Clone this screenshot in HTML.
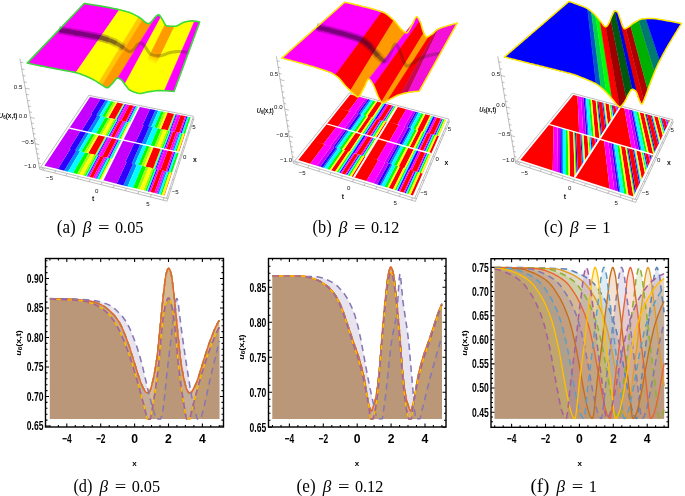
<!DOCTYPE html>
<html><head><meta charset="utf-8"><style>html,body{margin:0;padding:0;background:#fff}svg{display:block}</style></head>
<body><svg width="685" height="496" viewBox="0 0 685 496">
<path d="M39.7 169.3L19.9 58.5M39.7 169.3L167.1 201.2M167.1 201.2L194.2 117.7M39.4 167.5L43.3 168.5M38.6 162.9L40.9 163.5M37.8 158.3L40 158.8M36.9 153.5L39.2 154.1M36 148.7L38.4 149.2M35.2 143.7L39.3 144.7M34.3 138.7L36.6 139.2M33.3 133.5L35.7 134.1M32.4 128.3L34.8 128.8M31.4 122.9L33.9 123.5M30.4 117.4L34.8 118.4M29.4 111.8L31.9 112.4M28.4 106.1L30.9 106.7M27.4 100.3L29.9 100.8M26.3 94.3L28.9 94.8M25.2 88.2L29.8 89.1M24.1 81.9L26.7 82.5M22.9 75.5L25.6 76.1M21.8 69L24.5 69.5M20.6 62.3L23.3 62.8M43.1 170.1L45.6 166.4M54.4 173L55.7 170.8M65.8 175.8L67.1 173.7M77.4 178.7L78.6 176.5M89.2 181.7L90.3 179.4M101.1 184.6L103.1 180.6M113.2 187.7L114.2 185.4M125.4 190.7L126.4 188.4M137.8 193.8L138.8 191.5M150.5 197L151.3 194.6M163.2 200.2L164.7 195.9M168.1 198.3L162.3 196.8M171.1 188.8L168 188.1M174 179.8L171 179.1M176.8 171.2L173.8 170.5M179.5 162.9L176.6 162.2M182.1 154.9L176.9 153.8M184.6 147.3L181.7 146.7M186.9 140L184.1 139.4M189.2 132.9L186.5 132.3M191.4 126.1L188.7 125.6M193.6 119.6L188.8 118.6" stroke="#888" stroke-width="0.55" fill="none"/>
<g font-family="Liberation Sans, sans-serif" font-size="6.1" fill="#111"><text x="18.1" y="88.5" text-anchor="middle">0.5</text><text x="23" y="118" text-anchor="middle">0.0</text><text x="27.8" y="144.1" text-anchor="middle">−0.5</text><text x="30.2" y="167.9" text-anchor="middle">−1.0</text><text x="49.6" y="180.1" text-anchor="middle">−5</text><text x="96.8" y="192.9" text-anchor="middle">0</text><text x="148" y="205.5" text-anchor="middle">5</text><text x="93.2" y="201.4" text-anchor="middle" font-weight="bold" font-size="6.8">t</text><text x="194" y="129.4" text-anchor="middle">5</text><text x="184.8" y="159.2" text-anchor="middle">0</text><text x="175.3" y="193.9" text-anchor="middle">−5</text><text x="194.8" y="161.7" text-anchor="middle" font-weight="bold" font-size="6.8">x</text></g>
<text x="-1.5" y="118.1" textLength="19" lengthAdjust="spacingAndGlyphs" font-family="Liberation Sans, sans-serif" font-weight="bold" font-size="7" fill="#111"><tspan font-style="italic">U</tspan><tspan font-size="4.8" dy="1.3">6</tspan><tspan dy="-1.3">(x,t)</tspan></text>
<path d="M293.4 163.4L276.4 56.2M293.4 163.4L415.3 201.4M415.3 201.4L449.8 120.6M293.1 161.5L296.9 162.6M292.3 156.6L294.5 157.2M291.6 151.6L293.8 152.3M290.8 146.6L293 147.2M289.9 141.4L292.2 142.1M289.1 136.2L293 137.4M288.3 131L290.5 131.6M287.4 125.6L289.7 126.3M286.6 120.2L288.9 120.8M285.7 114.6L288 115.3M284.8 109L288.9 110.2M283.9 103.3L286.2 104M283 97.5L285.3 98.2M282 91.7L284.4 92.3M281.1 85.7L283.5 86.3M280.1 79.6L284.4 80.7M279.1 73.4L281.6 74.1M278.2 67.1L280.6 67.8M277.1 60.7L279.6 61.4M296.7 164.4L299.5 160.8M307.5 167.8L309.1 165.8M318.5 171.2L320 169.1M329.7 174.7L331.1 172.6M340.9 178.2L342.3 176.1M352.4 181.8L354.7 177.9M363.9 185.4L365.2 183.2M375.6 189L376.8 186.8M387.5 192.7L388.6 190.4M399.4 196.4L400.5 194.1M411.6 200.2L413.4 196M416.5 198.5L411 196.8M420.4 189.4L417.4 188.5M424.1 180.6L421.2 179.7M427.7 172.2L424.9 171.4M431.2 164.2L428.3 163.4M434.4 156.5L429.5 155.1M437.6 149.1L434.9 148.4M440.6 142.1L438 141.3M443.5 135.2L440.9 134.5M446.3 128.7L443.8 128M449 122.4L444.5 121.2" stroke="#888" stroke-width="0.55" fill="none"/>
<g font-family="Liberation Sans, sans-serif" font-size="6.1" fill="#111"><text x="273.9" y="76.4" text-anchor="middle">0.5</text><text x="278.3" y="108.5" text-anchor="middle">0.0</text><text x="282.3" y="136.9" text-anchor="middle">−0.5</text><text x="286" y="162.3" text-anchor="middle">−1.0</text><text x="302.3" y="175.2" text-anchor="middle">−5</text><text x="348.6" y="189.6" text-anchor="middle">0</text><text x="395.2" y="205.3" text-anchor="middle">5</text><text x="342.9" y="198.8" text-anchor="middle" font-weight="bold" font-size="6.8">t</text><text x="449.4" y="131" text-anchor="middle">5</text><text x="437.2" y="161" text-anchor="middle">0</text><text x="423.9" y="195.3" text-anchor="middle">−5</text><text x="446.5" y="164.7" text-anchor="middle" font-weight="bold" font-size="6.8">x</text></g>
<text x="256.8" y="112.7" textLength="16.9" lengthAdjust="spacingAndGlyphs" font-family="Liberation Sans, sans-serif" font-weight="bold" font-size="7" fill="#111"><tspan font-style="italic">U</tspan><tspan font-size="4.8" dy="1.3">6</tspan><tspan dy="-1.3">(x,t)</tspan></text>
<path d="M515.7 163.4L497.8 56.2M515.7 163.4L635.6 202.4M635.6 202.4L673.6 121.3M515.3 161.4L519 162.6M514.5 156.4L516.6 157.1M513.7 151.4L515.8 152M512.8 146.2L515 146.9M511.9 140.9L514.1 141.6M511 135.6L514.9 136.7M510.1 130.1L512.3 130.8M509.2 124.5L511.4 125.2M508.2 118.8L510.5 119.5M507.3 113L509.6 113.7M506.3 107.1L510.3 108.2M505.3 101L507.6 101.7M504.2 94.8L506.6 95.5M503.2 88.5L505.6 89.1M502.1 82L504.5 82.7M501 75.4L505.2 76.6M499.9 68.7L502.3 69.3M498.7 61.8L501.2 62.4M518.8 164.4L521.7 160.8M529.3 167.8L530.9 165.8M540 171.3L541.5 169.2M550.9 174.8L552.3 172.7M561.9 178.4L563.3 176.3M573.1 182.1L575.6 178.2M584.5 185.8L585.8 183.6M596.1 189.5L597.3 187.3M607.8 193.4L609 191.1M619.8 197.2L620.9 195M631.9 201.2L633.9 197M636.9 199.6L631.4 197.8M641.2 190.5L638.2 189.5M645.3 181.8L642.3 180.8M649.2 173.4L646.3 172.5M652.9 165.3L650.1 164.5M656.6 157.6L651.5 156.2M660 150.2L657.3 149.4M663.4 143L660.7 142.3M666.6 136.2L664 135.4M669.7 129.5L667.1 128.8M672.7 123.1L668.1 121.9" stroke="#888" stroke-width="0.55" fill="none"/>
<g font-family="Liberation Sans, sans-serif" font-size="6.1" fill="#111"><text x="495.8" y="75.7" text-anchor="middle">0.5</text><text x="500.6" y="107.4" text-anchor="middle">0.0</text><text x="504.3" y="136.2" text-anchor="middle">−0.5</text><text x="508.4" y="161.8" text-anchor="middle">−1.0</text><text x="524.4" y="175.2" text-anchor="middle">−5</text><text x="569.7" y="189.6" text-anchor="middle">0</text><text x="616.1" y="205.3" text-anchor="middle">5</text><text x="565" y="198.8" text-anchor="middle" font-weight="bold" font-size="6.8">t</text><text x="672.1" y="132.2" text-anchor="middle">5</text><text x="658.8" y="161.7" text-anchor="middle">0</text><text x="645.5" y="195.4" text-anchor="middle">−5</text><text x="668.8" y="164.8" text-anchor="middle" font-weight="bold" font-size="6.8">x</text></g>
<text x="479.3" y="111.7" textLength="17" lengthAdjust="spacingAndGlyphs" font-family="Liberation Sans, sans-serif" font-weight="bold" font-size="7" fill="#111"><tspan font-style="italic">U</tspan><tspan font-size="4.8" dy="1.3">6</tspan><tspan dy="-1.3">(x,t)</tspan></text>
<path d="M40.8 167 166.5 198.3 193.4 116.3 88.8 95.3Z" fill="#fff" stroke="#888" stroke-width="0.55"/>
<path d="M64.1 170.7 68 171.7 80.1 151.3 76.4 150.4ZM95.8 178.5 97.2 178.9 108 157.8 106.6 157.5ZM75.2 150.2 78.3 150.9 89.3 132.5 86.3 131.9ZM87.5 132.1 91.1 132.9 101 116.2 97.5 115.5ZM116.4 138.6 117.7 138.8 126.5 121.6 125.3 121.4ZM96.4 115.3 99.2 115.9 108.4 100.7 105.7 100.1ZM123.4 185.4 127.6 186.4 137 164.6 133 163.7ZM157.3 193.8 158.9 194.1 166.7 171.6 165.3 171.2ZM131.7 163.4 135 164.1 143.5 144.6 140.4 143.9ZM141.6 144.1 145.4 145 153.1 127.2 149.4 126.5ZM172.4 151 173.8 151.3 180.2 132.9 178.9 132.7ZM148.3 126.2 151.3 126.8 158.3 110.7 155.4 110.1Z" fill="#0088FF"/>
<path d="M73 172.9 77.1 173.9 88.8 153.3 84.9 152.4ZM84.5 175.7 86 176.1 97.2 155.3 95.9 155ZM98.6 179.2 99.9 179.5 110.6 158.4 109.3 158.1ZM81.2 151.6 84.2 152.3 95 133.8 92.1 133.2ZM111.1 158.5 112.9 159 112.9 159 122.4 139.9 122.4 139.9 120.6 139.5ZM95.6 133.9 99.3 134.8 108.9 117.9 105.3 117.2ZM106.2 136.3 107.4 136.6 116.7 119.6 115.5 119.3ZM119 139.1 120.2 139.4 128.9 122.1 127.8 121.9ZM102 116.5 104.7 117 113.6 101.7 111 101.2ZM129.3 122.2 131 122.6 131 122.6 138.9 106.8 138.9 106.8 137.3 106.5ZM132.9 187.7 137.3 188.8 146.2 166.8 142.1 165.8ZM145.3 190.8 146.8 191.1 155.3 168.9 153.8 168.5ZM160.4 194.5 161.8 194.9 169.5 172.2 168.2 171.9ZM138.2 164.9 141.3 165.6 149.6 145.9 146.6 145.2ZM170 172.3 172 172.8 172 172.8 178.8 152.4 178.8 152.4 177 152ZM150.3 146.1 154.2 146.9 161.5 129 157.7 128.2ZM161.5 148.6 162.9 148.9 169.8 130.7 168.5 130.5ZM175.2 151.6 176.5 151.9 182.8 133.5 181.5 133.2ZM154.2 127.5 157.1 128.1 163.8 111.8 161.1 111.3ZM183.2 133.6 185 133.9 185 133.9 190.6 117.2 190.6 117.2 188.9 116.9Z" fill="#00FF00"/>
<path d="M68 171.7 73 172.9 84.9 152.4 80.1 151.3ZM86 176.1 87 176.4 98.3 155.6 97.2 155.3ZM97.2 178.9 98.6 179.2 109.3 158.1 108 157.8ZM78.3 150.9 81.2 151.6 92.1 133.2 89.3 132.5ZM96.1 155.1 97.1 155.3 107.3 136.5 106.4 136.3ZM109.5 158.2 111.1 158.5 120.6 139.5 119.1 139.2ZM91.1 132.9 95.6 133.9 105.3 117.2 101 116.2ZM107.4 136.6 108.4 136.8 117.6 119.8 116.7 119.6ZM117.7 138.8 119 139.1 127.8 121.9 126.5 121.6ZM99.2 115.9 102 116.5 111 101.2 108.4 100.7ZM115.7 119.3 116.6 119.5 125 104 124.1 103.9ZM127.9 121.9 129.3 122.2 137.3 106.5 135.9 106.2ZM127.6 186.4 132.9 187.7 142.1 165.8 137 164.6ZM146.8 191.1 147.9 191.4 156.4 169.1 155.3 168.9ZM158.9 194.1 160.4 194.5 168.2 171.9 166.7 171.6ZM135 164.1 138.2 164.9 146.6 145.2 143.5 144.6ZM154.1 168.6 155.2 168.9 162.8 148.8 161.7 148.6ZM168.3 171.9 170 172.3 177 152 175.3 151.6ZM145.4 145 150.3 146.1 157.7 128.2 153.1 127.2ZM162.9 148.9 163.9 149.1 170.7 130.9 169.8 130.7ZM173.8 151.3 175.2 151.6 181.5 133.2 180.2 132.9ZM151.3 126.8 154.2 127.5 161.1 111.3 158.3 110.7ZM168.7 130.5 169.7 130.7 175.9 114.3 175 114.1ZM181.7 133.2 183.2 133.6 188.9 116.9 187.4 116.6Z" fill="#00FFFF"/>
<path d="M57.8 169.1 64.1 170.7 76.4 150.4 70.3 149ZM87 176.4 88.1 176.6 99.3 155.8 98.3 155.6ZM69.3 148.8 75.2 150.2 86.3 131.9 80.7 130.6ZM97.1 155.3 98.1 155.5 108.3 136.8 107.3 136.5ZM108.3 157.9 109.5 158.2 119.1 139.2 118 138.9ZM81.6 130.8 87.5 132.1 97.5 115.5 91.9 114.3ZM108.4 136.8 109.4 137 118.5 120 117.6 119.8ZM91 114.1 96.4 115.3 105.7 100.1 100.4 99.1ZM116.6 119.5 117.5 119.7 125.9 104.2 125 104ZM126.8 121.7 127.9 121.9 135.9 106.2 134.9 106ZM116.6 183.7 123.4 185.4 133 163.7 126.5 162.2ZM147.9 191.4 149.1 191.7 157.4 169.4 156.4 169.1ZM125.4 161.9 131.7 163.4 140.4 143.9 134.4 142.5ZM155.2 168.9 156.2 169.1 163.8 149.1 162.8 148.8ZM167.1 171.7 168.3 171.9 175.3 151.6 174.2 151.4ZM135.4 142.8 141.6 144.1 149.4 126.5 143.5 125.2ZM163.9 149.1 164.9 149.3 171.7 131.2 170.7 130.9ZM142.5 125 148.3 126.2 155.4 110.1 149.9 109ZM169.7 130.7 170.6 130.9 176.9 114.4 175.9 114.3ZM180.5 133 181.7 133.2 187.4 116.6 186.3 116.3Z" fill="#3000FF"/>
<path d="M77.1 173.9 79.5 174.5 91.1 153.9 88.8 153.3ZM82.7 175.3 84.5 175.7 95.9 155 94.1 154.6ZM84.2 152.3 86.6 152.8 97.3 134.3 95 133.8ZM95.1 154.8 96.1 155.1 106.4 136.3 105.4 136.1ZM99.3 134.8 101.6 135.3 111 118.4 108.9 117.9ZM104.4 135.9 106.2 136.3 115.5 119.3 113.8 119ZM104.7 117 107 117.5 115.8 102.2 113.6 101.7ZM114.7 119.1 115.7 119.3 124.1 103.9 123.2 103.7ZM137.3 188.8 139.9 189.4 148.7 167.3 146.2 166.8ZM143.3 190.3 145.3 190.8 153.8 168.5 151.9 168.1ZM141.3 165.6 143.9 166.2 152.1 146.5 149.6 145.9ZM153 168.4 154.1 168.6 161.7 148.6 160.7 148.4ZM154.2 146.9 156.6 147.5 163.8 129.5 161.5 129ZM159.7 148.1 161.5 148.6 168.5 130.5 166.7 130.1ZM157.1 128.1 159.4 128.6 166.1 112.3 163.8 111.8ZM167.7 130.3 168.7 130.5 175 114.1 174 113.9Z" fill="#A0FF00"/>
<path d="M44.4 165.8 57.8 169.1 70.3 149 57.5 146ZM94.9 178.3 95.8 178.5 106.6 157.5 105.8 157.3ZM57.5 146 69.3 148.8 80.7 130.6 69.4 128.1ZM98.1 155.5 99.2 155.8 109.3 137 108.3 136.8ZM69.4 128.1 81.6 130.8 91.9 114.3 80.2 111.9ZM115.6 138.4 116.4 138.6 125.3 121.4 124.6 121.2ZM80.2 111.9 91 114.1 100.4 99.1 90 97ZM117.5 119.7 118.4 119.9 126.8 104.4 125.9 104.2ZM102.3 180.1 116.6 183.7 126.5 162.2 112.9 159ZM156.4 193.5 157.3 193.8 165.3 171.2 164.4 171ZM112.9 159 125.4 161.9 134.4 142.5 122.4 139.9ZM156.2 169.1 157.3 169.4 164.8 149.3 163.8 149.1ZM122.4 139.9 135.4 142.8 143.5 125.2 131 122.6ZM171.6 150.8 172.4 151 178.9 132.7 178.1 132.5ZM131 122.6 142.5 125 149.9 109 138.9 106.8ZM170.6 130.9 171.6 131.1 177.8 114.6 176.9 114.4Z" fill="#C600FF"/>
<path d="M89.5 177 93 177.8 104 156.9 100.6 156.1ZM101.9 180 102.3 180.1 112.9 159 112.4 158.9ZM88.2 153.2 95.1 154.8 105.4 136.1 98.8 134.7ZM102.1 156.5 107.1 157.6 116.8 138.7 112.1 137.6ZM110.7 137.3 113.9 138 122.9 120.9 119.8 120.2ZM122 139.8 122.4 139.9 131 122.6 130.6 122.5ZM108.4 117.8 114.7 119.1 123.2 103.7 117.1 102.5ZM121.1 120.5 125.7 121.5 133.8 105.8 129.4 104.9ZM150.6 192.1 154.4 193 162.5 170.6 158.9 169.7ZM163.9 195.4 164.4 195.5 172 172.8 171.5 172.7ZM145.6 166.6 153 168.4 160.7 148.4 153.7 146.8ZM160.4 170.1 165.8 171.3 172.9 151.1 167.8 150ZM166.3 149.6 169.8 150.4 176.4 132.1 173.1 131.4ZM178.3 152.3 178.8 152.4 185 133.9 184.5 133.9ZM160.9 128.9 167.7 130.3 174 113.9 167.6 112.6ZM174.5 131.7 179.3 132.8 185.2 116.1 180.5 115.2Z" fill="#FF0000"/>
<path d="M88.1 176.6 89.5 177 100.6 156.1 99.3 155.8ZM93 177.8 94.9 178.3 105.8 157.3 104 156.9ZM99.2 155.8 102.1 156.5 112.1 137.6 109.3 137ZM107.1 157.6 108.3 157.9 118 138.9 116.8 138.7ZM109.4 137 110.7 137.3 119.8 120.2 118.5 120ZM113.9 138 115.6 138.4 124.6 121.2 122.9 120.9ZM118.4 119.9 121.1 120.5 129.4 104.9 126.8 104.4ZM125.7 121.5 126.8 121.7 134.9 106 133.8 105.8ZM149.1 191.7 150.6 192.1 158.9 169.7 157.4 169.4ZM154.4 193 156.4 193.5 164.4 171 162.5 170.6ZM157.3 169.4 160.4 170.1 167.8 150 164.8 149.3ZM165.8 171.3 167.1 171.7 174.2 151.4 172.9 151.1ZM164.9 149.3 166.3 149.6 173.1 131.4 171.7 131.2ZM169.8 150.4 171.6 150.8 178.1 132.5 176.4 132.1ZM171.6 131.1 174.5 131.7 180.5 115.2 177.8 114.6ZM179.3 132.8 180.5 133 186.3 116.3 185.2 116.1Z" fill="#FF00FF"/>
<path d="M79.5 174.5 82.7 175.3 94.1 154.6 91.1 153.9ZM99.9 179.5 101.9 180 112.4 158.9 110.6 158.4ZM86.6 152.8 88.2 153.2 98.8 134.7 97.3 134.3ZM101.6 135.3 104.4 135.9 113.8 119 111 118.4ZM120.2 139.4 122 139.8 130.6 122.5 128.9 122.1ZM107 117.5 108.4 117.8 117.1 102.5 115.8 102.2ZM139.9 189.4 143.3 190.3 151.9 168.1 148.7 167.3ZM161.8 194.9 163.9 195.4 171.5 172.7 169.5 172.2ZM143.9 166.2 145.6 166.6 153.7 146.8 152.1 146.5ZM156.6 147.5 159.7 148.1 166.7 130.1 163.8 129.5ZM176.5 151.9 178.3 152.3 184.5 133.9 182.8 133.5ZM159.4 128.6 160.9 128.9 167.6 112.6 166.1 112.3Z" fill="#FFFF00"/>
<path d="M101.3 179.9 103.4 180.4 139.8 107 138 106.6Z" fill="#fff"/>
<path d="M69 128.8 178.6 153.1 179 151.7 69.8 127.5Z" fill="#fff"/>
<path d="M294.5 161.1 414.7 198.4 448.9 119.1 349.4 92.8Z" fill="#fff" stroke="#888" stroke-width="0.55"/>
<path d="M322.7 167.6 324.2 168.1 338.1 148.4 336.7 148ZM334.9 147.5 336.8 148.1 349.4 130.4 347.6 129.9ZM349.3 130.4 350.6 130.8 361.9 114.8 360.7 114.4ZM359 114 360.8 114.5 371.1 100 369.5 99.5ZM379.8 185.3 381.3 185.7 392.6 164.6 391.1 164.1ZM389.2 163.6 391.2 164.2 401.4 145.2 399.5 144.7ZM401.3 145.2 402.7 145.6 411.8 128.5 410.4 128.1ZM408.7 127.6 410.5 128.1 418.8 112.6 417.1 112.1Z" fill="#0088FF"/>
<path d="M327.2 169 329.7 169.8 343.4 150 341 149.3ZM336.8 172 338.2 172.4 351.4 152.4 350.1 152ZM348.2 175.5 349.7 175.9 362.4 155.7 361 155.2ZM339.4 148.8 342 149.6 354.4 131.8 351.8 131.1ZM350.5 152.1 351.2 152.3 363.1 134.3 362.4 134.1ZM363.4 155.9 364.7 156.3 376.1 138 374.8 137.7ZM353.3 131.6 355.7 132.2 366.8 116.1 364.6 115.5ZM362.1 134.1 363.4 134.4 374.1 118.1 373 117.8ZM372.5 137 373.9 137.4 384.2 120.9 382.9 120.6ZM363.1 115.1 365.5 115.8 375.7 101.2 373.4 100.6ZM373.3 117.9 374 118.1 383.8 103.3 383.1 103.1ZM385.1 121.2 386.3 121.5 395.6 106.5 394.5 106.1ZM384.5 186.7 387.3 187.6 398.2 166.2 395.6 165.5ZM394.8 189.9 396.2 190.3 406.7 168.8 405.3 168.4ZM406.9 193.6 408.5 194.1 418.4 172.2 416.9 171.8ZM393.9 165 396.7 165.8 406.6 146.7 403.9 146ZM405.7 168.5 406.5 168.7 415.9 149.4 415.2 149.1ZM419.4 172.5 420.8 172.9 429.6 153.2 428.3 152.9ZM405.6 146.4 408 147.1 416.9 129.9 414.5 129.2ZM414.8 149 416.1 149.4 424.6 132 423.4 131.6ZM425.8 152.2 427.3 152.6 435.3 134.9 433.9 134.5ZM413 128.8 415.5 129.5 423.6 113.9 421.2 113.2ZM423.7 131.7 424.4 131.9 432.1 116.1 431.4 115.9ZM436.2 135.2 437.5 135.5 444.6 119.4 443.4 119.1Z" fill="#00FF00"/>
<path d="M324.2 168.1 327.2 169 341 149.3 338.1 148.4ZM338.2 172.4 339.3 172.7 352.5 152.7 351.4 152.4ZM347.1 175.1 348.2 175.5 361 155.2 359.9 154.9ZM336.8 148.1 339.4 148.8 351.8 131.1 349.4 130.4ZM351.2 152.3 352.5 152.7 364.4 134.7 363.1 134.3ZM362.5 155.7 363.4 155.9 374.8 137.7 374 137.4ZM350.6 130.8 353.3 131.6 364.6 115.5 361.9 114.8ZM363.4 134.4 364.4 134.7 375.1 118.4 374.1 118.1ZM371.5 136.7 372.5 137 382.9 120.6 381.9 120.3ZM360.8 114.5 363.1 115.1 373.4 100.6 371.1 100ZM374 118.1 375.1 118.4 384.9 103.6 383.8 103.3ZM384.3 120.9 385.1 121.2 394.5 106.1 393.7 105.9ZM381.3 185.7 384.5 186.7 395.6 165.5 392.6 164.6ZM396.2 190.3 397.4 190.7 407.8 169.1 406.7 168.8ZM405.7 193.3 406.9 193.6 416.9 171.8 415.7 171.4ZM391.2 164.2 393.9 165 403.9 146 401.4 145.2ZM406.5 168.7 407.8 169.1 417.2 149.7 415.9 149.4ZM418.5 172.2 419.4 172.5 428.3 152.9 427.4 152.6ZM402.7 145.6 405.6 146.4 414.5 129.2 411.8 128.5ZM416.1 149.4 417.2 149.7 425.7 132.3 424.6 132ZM424.7 151.9 425.8 152.2 433.9 134.5 432.8 134.2ZM410.5 128.1 413 128.8 421.2 113.2 418.8 112.6ZM424.4 131.9 425.7 132.3 433.3 116.4 432.1 116.1ZM435.4 134.9 436.2 135.2 443.4 119.1 442.6 118.9Z" fill="#00FFFF"/>
<path d="M320.2 166.8 322.7 167.6 336.7 148 334.3 147.3ZM339.3 172.7 340.6 173.1 353.8 153.1 352.5 152.7ZM346.1 174.8 347.1 175.1 359.9 154.9 359 154.6ZM333.1 147 334.9 147.5 347.6 129.9 345.9 129.4ZM352.5 152.7 354.4 153.3 366.2 135.2 364.4 134.7ZM361.6 155.4 362.5 155.7 374 137.4 373.1 137.2ZM347 129.7 349.3 130.4 360.7 114.4 358.5 113.8ZM364.4 134.7 365.6 135 376.3 118.7 375.1 118.4ZM370.6 136.5 371.5 136.7 381.9 120.3 381.1 120ZM357.4 113.5 359 114 369.5 99.5 367.9 99.1ZM375.1 118.4 376.9 118.9 386.6 104.1 384.9 103.6ZM383.4 120.7 384.3 120.9 393.7 105.9 392.9 105.7ZM377.1 184.4 379.8 185.3 391.1 164.1 388.5 163.4ZM397.4 190.7 398.8 191.1 409.2 169.5 407.8 169.1ZM404.6 192.9 405.7 193.3 415.7 171.4 414.7 171.1ZM387.3 163 389.2 163.6 399.5 144.7 397.6 144.2ZM407.8 169.1 409.9 169.7 419.2 150.3 417.2 149.7ZM417.5 171.9 418.5 172.2 427.4 152.6 426.4 152.3ZM398.8 144.5 401.3 145.2 410.4 128.1 408.1 127.4ZM417.2 149.7 418.5 150.1 426.9 132.6 425.7 132.3ZM423.8 151.6 424.7 151.9 432.8 134.2 431.9 134ZM407 127.1 408.7 127.6 417.1 112.1 415.4 111.7ZM425.7 132.3 427.5 132.8 435.1 116.9 433.3 116.4ZM434.4 134.7 435.4 134.9 442.6 118.9 441.7 118.7Z" fill="#3000FF"/>
<path d="M316.9 165.8 320.2 166.8 334.3 147.3 331.1 146.4ZM330.5 146.2 333.1 147 345.9 129.4 343.3 128.7ZM344 128.9 347 129.7 358.5 113.8 355.6 113ZM355 112.9 357.4 113.5 367.9 99.1 365.6 98.5ZM373.6 183.3 377.1 184.4 388.5 163.4 385.2 162.4ZM384.5 162.2 387.3 163 397.6 144.2 395 143.4ZM395.6 143.6 398.8 144.5 408.1 127.4 405 126.6ZM404.4 126.4 407 127.1 415.4 111.7 413 111Z" fill="#C600FF"/>
<path d="M298.3 160.1 310.1 163.7 324.6 144.5 313.3 141.1ZM331.2 170.2 335.1 171.4 348.5 151.5 344.8 150.4ZM341.6 173.5 345.2 174.5 358.1 154.4 354.8 153.4ZM351.6 176.5 353.8 177.2 366.4 156.8 364.3 156.2ZM313.3 141.1 323.4 144.1 336.5 126.8 326.9 124ZM343.8 150.1 349.2 151.7 361.2 133.8 356.1 132.3ZM356.3 153.8 360.7 155.1 372.2 136.9 368 135.7ZM366.1 156.7 366.4 156.8 377.6 138.5 377.4 138.4ZM326.9 124 337.7 127.1 349.6 111.4 339.2 108.6ZM357 132.6 360.6 133.6 371.5 117.4 368.1 116.5ZM366.5 135.3 369.7 136.2 380.3 119.8 377.2 119ZM375.6 137.9 377.6 138.5 387.8 121.9 385.9 121.4ZM339.2 108.6 348.5 111.1 359.3 96.8 350.4 94.5ZM367.2 116.2 372.1 117.6 382 102.8 377.3 101.6ZM378.6 119.4 382.6 120.5 392.1 105.5 388.2 104.5ZM387.6 121.8 387.8 121.9 397.1 106.8 396.9 106.8ZM353.8 177.2 366.4 181.1 378.3 160.4 366.4 156.8ZM388.8 188 393 189.3 403.6 167.8 399.7 166.7ZM399.9 191.5 403.7 192.6 413.8 170.9 410.2 169.8ZM410.6 194.8 412.9 195.5 422.6 173.4 420.4 172.8ZM366.4 156.8 377 160 387.8 141.4 377.6 138.5ZM398.7 166.4 404.3 168 413.9 148.8 408.5 147.2ZM411.8 170.3 416.6 171.7 425.5 152.1 421 150.8ZM422.3 173.4 422.6 173.4 431.2 153.7 431 153.7ZM377.6 138.5 389.1 141.7 398.7 124.9 387.8 121.9ZM409.4 147.5 413.2 148.6 421.8 131.2 418.2 130.2ZM419.5 150.4 422.9 151.3 431.1 133.7 427.8 132.9ZM429.1 153.1 431.2 153.7 439 135.9 437 135.4ZM387.8 121.9 397.5 124.6 406.4 109.3 397.1 106.8ZM417.3 130 422.4 131.4 430.2 115.6 425.3 114.3ZM429.3 133.3 433.6 134.4 440.9 118.4 436.8 117.4ZM438.8 135.9 439 135.9 446.1 119.8 445.9 119.8Z" fill="#FF0000"/>
<path d="M310.1 163.7 316.9 165.8 331.1 146.4 324.6 144.5ZM340.6 173.1 341.6 173.5 354.8 153.4 353.8 153.1ZM345.2 174.5 346.1 174.8 359 154.6 358.1 154.4ZM323.4 144.1 330.5 146.2 343.3 128.7 336.5 126.8ZM354.4 153.3 356.3 153.8 368 135.7 366.2 135.2ZM360.7 155.1 361.6 155.4 373.1 137.2 372.2 136.9ZM337.7 127.1 344 128.9 355.6 113 349.6 111.4ZM365.6 135 366.5 135.3 377.2 119 376.3 118.7ZM369.7 136.2 370.6 136.5 381.1 120 380.3 119.8ZM348.5 111.1 355 112.9 365.6 98.5 359.3 96.8ZM376.9 118.9 378.6 119.4 388.2 104.5 386.6 104.1ZM382.6 120.5 383.4 120.7 392.9 105.7 392.1 105.5ZM366.4 181.1 373.6 183.3 385.2 162.4 378.3 160.4ZM398.8 191.1 399.9 191.5 410.2 169.8 409.2 169.5ZM403.7 192.6 404.6 192.9 414.7 171.1 413.8 170.9ZM377 160 384.5 162.2 395 143.4 387.8 141.4ZM409.9 169.7 411.8 170.3 421 150.8 419.2 150.3ZM416.6 171.7 417.5 171.9 426.4 152.3 425.5 152.1ZM389.1 141.7 395.6 143.6 405 126.6 398.7 124.9ZM418.5 150.1 419.5 150.4 427.8 132.9 426.9 132.6ZM422.9 151.3 423.8 151.6 431.9 134 431.1 133.7ZM397.5 124.6 404.4 126.4 413 111 406.4 109.3ZM427.5 132.8 429.3 133.3 436.8 117.4 435.1 116.9ZM433.6 134.4 434.4 134.7 441.7 118.7 440.9 118.4Z" fill="#FF00FF"/>
<path d="M329.7 169.8 331.2 170.2 344.8 150.4 343.4 150ZM335.1 171.4 336.8 172 350.1 152 348.5 151.5ZM349.7 175.9 351.6 176.5 364.3 156.2 362.4 155.7ZM342 149.6 343.8 150.1 356.1 132.3 354.4 131.8ZM349.2 151.7 350.5 152.1 362.4 134.1 361.2 133.8ZM364.7 156.3 366.1 156.7 377.4 138.4 376.1 138ZM355.7 132.2 357 132.6 368.1 116.5 366.8 116.1ZM360.6 133.6 362.1 134.1 373 117.8 371.5 117.4ZM373.9 137.4 375.6 137.9 385.9 121.4 384.2 120.9ZM365.5 115.8 367.2 116.2 377.3 101.6 375.7 101.2ZM372.1 117.6 373.3 117.9 383.1 103.1 382 102.8ZM386.3 121.5 387.6 121.8 396.9 106.8 395.6 106.5ZM387.3 187.6 388.8 188 399.7 166.7 398.2 166.2ZM393 189.3 394.8 189.9 405.3 168.4 403.6 167.8ZM408.5 194.1 410.6 194.8 420.4 172.8 418.4 172.2ZM396.7 165.8 398.7 166.4 408.5 147.2 406.6 146.7ZM404.3 168 405.7 168.5 415.2 149.1 413.9 148.8ZM420.8 172.9 422.3 173.4 431 153.7 429.6 153.2ZM408 147.1 409.4 147.5 418.2 130.2 416.9 129.9ZM413.2 148.6 414.8 149 423.4 131.6 421.8 131.2ZM427.3 152.6 429.1 153.1 437 135.4 435.3 134.9ZM415.5 129.5 417.3 130 425.3 114.3 423.6 113.9ZM422.4 131.4 423.7 131.7 431.4 115.9 430.2 115.6ZM437.5 135.5 438.8 135.9 445.9 119.8 444.6 119.4Z" fill="#FFFF00"/>
<path d="M352.8 176.9 354.8 177.5 397.9 107.1 396.2 106.6Z" fill="#fff"/>
<path d="M326.5 124.6 430.9 154.4 431.5 153 327.4 123.5Z" fill="#fff"/>
<path d="M516.7 161 635.1 199.4 672.8 119.7 572.4 93.2Z" fill="#fff" stroke="#888" stroke-width="0.55"/>
<path d="M561.8 173.4 563 173.8 562.9 128.5 561.8 128.1ZM587.6 135.6 588.8 136 586.1 98.3 585 98ZM619.4 191.9 620.8 192.4 614 143.3 612.9 143ZM640.7 151 641.9 151.4 633.5 110.8 632.5 110.5Z" fill="#0088FF"/>
<path d="M566.1 174.8 568.5 175.5 567.7 129.9 565.7 129.3ZM575.5 176.2 576.6 174.6 575 132 574 131.7ZM589.7 154.2 590.7 152.8 589.4 136.2 588.4 135.9ZM597.1 142.8 598 141.5 597.7 138.6 596.7 138.3ZM591.6 136.8 593.8 137.4 590.6 99.5 588.6 99ZM600.2 138 601.1 136.7 597.4 101.3 596.4 101ZM611.9 119.9 612.7 118.6 610.7 104.8 609.8 104.6ZM618 110.4 618.8 109.3 618.4 106.8 617.4 106.6ZM624.1 193.5 626.7 194.3 619.3 144.8 617 144.2ZM634.1 195 634.9 193.2 627.1 147.1 626 146.8ZM645.5 171.1 646.3 169.5 642.6 151.6 641.5 151.3ZM651.5 158.8 652.2 157.3 651.5 154.2 650.3 153.8ZM645 152.3 647.3 152.9 638.4 112.1 636.3 111.6ZM654 153.6 654.7 152.1 645.6 114 644.6 113.8ZM663.4 134 664 132.7 659.9 117.8 658.9 117.5ZM668.2 123.8 668.8 122.6 668.1 120 667 119.7Z" fill="#00FF00"/>
<path d="M563 173.8 566.1 174.8 565.7 129.3 562.9 128.5ZM582.9 164.7 584.1 162.9 582.5 134.2 581.3 133.8ZM590.7 152.8 591.6 151.3 590.5 136.5 589.4 136.2ZM588.8 136 591.6 136.8 588.6 99 586.1 98.3ZM606.3 128.6 607.3 127 604.3 103.1 603.2 102.8ZM612.7 118.6 613.5 117.4 611.7 105.1 610.7 104.8ZM620.8 192.4 624.1 193.5 617 144.2 614 143.3ZM640 182.5 641 180.5 635.1 149.4 633.8 149ZM646.3 169.5 647.1 167.9 643.7 151.9 642.6 151.6ZM641.9 151.4 645 152.3 636.3 111.6 633.5 110.8ZM658.9 143.4 659.6 141.7 653 116 651.8 115.7ZM664 132.7 664.6 131.4 660.9 118.1 659.9 117.8Z" fill="#00FFFF"/>
<path d="M560 172.8 561.8 173.4 561.8 128.1 560.2 127.7ZM576.6 174.6 577.8 172.6 576.2 132.3 575 132ZM581.9 166.3 582.9 164.7 581.3 133.8 580.3 133.5ZM591.6 151.3 592.5 149.9 591.5 136.8 590.5 136.5ZM596.2 144.2 597.1 142.8 596.7 138.3 595.6 138ZM586 135.2 587.6 135.6 585 98 583.6 97.6ZM601.1 136.7 602.1 135.1 598.5 101.6 597.4 101.3ZM605.5 129.9 606.3 128.6 603.2 102.8 602.2 102.6ZM613.5 117.4 614.3 116.3 612.6 105.3 611.7 105.1ZM617.3 111.6 618 110.4 617.4 106.6 616.5 106.3ZM617.5 191.3 619.4 191.9 612.9 143 611.2 142.5ZM634.9 193.2 635.9 191.1 628.4 147.5 627.1 147.1ZM639.2 184.2 640 182.5 633.8 149 632.7 148.7ZM647.1 167.9 647.8 166.4 644.8 152.2 643.7 151.9ZM650.7 160.3 651.5 158.8 650.3 153.8 649.2 153.5ZM638.9 150.5 640.7 151 632.5 110.5 630.9 110.1ZM654.7 152.1 655.5 150.4 646.8 114.3 645.6 114ZM658.2 144.8 658.9 143.4 651.8 115.7 650.8 115.4ZM664.6 131.4 665.2 130.1 661.9 118.3 660.9 118.1ZM667.7 125 668.2 123.8 667 119.7 666 119.4Z" fill="#3000FF"/>
<path d="M557.1 171.9 560 172.8 560.2 127.7 557.6 126.9ZM583.3 134.4 586 135.2 583.6 97.6 581.1 97ZM614.3 190.3 617.5 191.3 611.2 142.5 608.3 141.6ZM635.9 149.7 638.9 150.5 630.9 110.1 628.3 109.4Z" fill="#C600FF"/>
<path d="M520.4 160 552.7 170.4 553.7 125.8 549.3 124.5ZM570 176 574.7 177.5 574.7 177.5 573.2 131.5 569.1 130.3ZM577.8 172.6 581.9 166.3 580.3 133.5 576.2 132.3ZM585.1 161.4 588.8 155.7 587.4 135.6 583.5 134.4ZM592.5 149.9 595.3 145.6 594.6 137.7 591.5 136.8ZM598 141.5 599.5 139.1 597.7 138.6ZM549.3 124.5 579.2 133.2 577.5 96 573.4 94.9ZM595.3 137.9 599.5 139.1 599.5 139.1 595.7 100.8 591.9 99.8ZM602.1 135.1 605.5 129.9 602.2 102.6 598.5 101.6ZM608.1 125.8 611.1 121.1 608.8 104.3 605.2 103.3ZM614.3 116.3 616.5 112.7 615.5 106.1 612.6 105.3ZM618.8 109.3 620.1 107.3 618.4 106.8ZM574.7 177.5 609.6 188.8 604.1 140.4 599.5 139.1ZM628.4 194.8 633.4 196.4 633.4 196.4 625.2 146.5 620.8 145.2ZM635.9 191.1 639.2 184.2 632.7 148.7 628.4 147.5ZM641.8 178.9 644.8 172.7 640.4 150.9 636.2 149.7ZM647.8 166.4 650 161.8 648.1 153.2 644.8 152.2ZM652.2 157.3 653.4 154.7 651.5 154.2ZM599.5 139.1 631.6 148.4 624.4 108.4 620.1 107.3ZM648.8 153.4 653.4 154.7 653.4 154.7 643.8 113.5 639.7 112.5ZM655.5 150.4 658.2 144.8 650.8 115.4 646.8 114.3ZM660.3 140.4 662.7 135.3 657.9 117.3 654 116.2ZM665.2 130.1 667.1 126.3 665 119.1 661.9 118.3ZM668.8 122.6 669.9 120.4 668.1 120Z" fill="#FF0000"/>
<path d="M552.7 170.4 557.1 171.9 557.6 126.9 553.7 125.8ZM595.3 145.6 596.2 144.2 595.6 138 594.6 137.7ZM579.2 133.2 583.3 134.4 581.1 97 577.5 96ZM616.5 112.7 617.3 111.6 616.5 106.3 615.5 106.1ZM609.6 188.8 614.3 190.3 608.3 141.6 604.1 140.4ZM650 161.8 650.7 160.3 649.2 153.5 648.1 153.2ZM631.6 148.4 635.9 149.7 628.3 109.4 624.4 108.4ZM667.1 126.3 667.7 125 666 119.4 665 119.1Z" fill="#FF00FF"/>
<path d="M568.5 175.5 570 176 569.1 130.3 567.7 129.9ZM574.7 177.5 574.7 177.5 575.5 176.2 574 131.7 573.2 131.5ZM584.1 162.9 585.1 161.4 583.5 134.4 582.5 134.2ZM588.8 155.7 589.7 154.2 588.4 135.9 587.4 135.6ZM593.8 137.4 595.3 137.9 591.9 99.8 590.6 99.5ZM599.5 139.1 599.5 139.1 600.2 138 596.4 101 595.7 100.8ZM607.3 127 608.1 125.8 605.2 103.3 604.3 103.1ZM611.1 121.1 611.9 119.9 609.8 104.6 608.8 104.3ZM626.7 194.3 628.4 194.8 620.8 145.2 619.3 144.8ZM633.4 196.4 633.4 196.4 634.1 195 626 146.8 625.2 146.5ZM641 180.5 641.8 178.9 636.2 149.7 635.1 149.4ZM644.8 172.7 645.5 171.1 641.5 151.3 640.4 150.9ZM647.3 152.9 648.8 153.4 639.7 112.5 638.4 112.1ZM653.4 154.7 653.4 154.7 654 153.6 644.6 113.8 643.8 113.5ZM659.6 141.7 660.3 140.4 654 116.2 653 116ZM662.7 135.3 663.4 134 658.9 117.5 657.9 117.3Z" fill="#FFFF00"/>
<path d="M573.6 177.2 575.7 177.8 620.9 107.5 619.2 107Z" fill="#fff"/>
<path d="M548.9 125.1 653.1 155.4 653.7 154 549.8 124Z" fill="#fff"/>
<path d="M27.2 63.1 28.3 63.3 29.4 63.5 30.5 63.8 31.5 64 32.6 64.2 33.7 64.4 34.8 64.6 35.9 64.9 37 65.1 38 65.3 39.1 65.5 40.2 65.7 41.3 66 42.4 66.2 43.5 66.4 44.6 66.6 45.7 66.8 46.8 67 47.9 67.3 49 67.5 50.1 67.7 51.2 67.9 52.3 68.1 53.4 68.3 54.5 68.5 55.6 68.7 56.7 69 57.9 69.2 59 69.4 60.1 69.6 61.2 69.8 62.3 70 63.4 70.2 64.6 70.4 65.7 70.6 66.8 70.8 67.9 71 69.1 71.2 70.2 71.4 71.3 71.6 72.4 71.9 73.6 72.1 74.7 72.3 75.9 72.6 119.4 9.7 118.6 9.5 117.8 9.4 117 9.2 116.1 9 115.3 8.8 114.5 8.7 113.7 8.5 112.9 8.3 112.1 8.2 111.3 8 110.5 7.9 109.7 7.7 108.9 7.5 108.1 7.4 107.3 7.2 106.4 7.1 105.6 6.9 104.8 6.8 104 6.6 103.2 6.5 102.4 6.4 101.6 6.2 100.8 6.1 100 6 99.2 5.8 98.5 5.7 97.7 5.6 96.9 5.4 96.1 5.3 95.3 5.2 94.5 5.1 93.7 4.9 92.9 4.8 92.1 4.7 91.3 4.6 90.5 4.4 89.7 4.3 89 4.2 88.2 4.1 87.4 4 86.6 3.8 85.8 3.7 85 3.6 84.2 3.5Z" fill="#FF00FF" stroke="#FF00FF" stroke-width="0.6"/>
<path d="M75.9 72.6 76.9 72.9 78 73.2 79.1 73.5 80.1 73.9 81.2 74.3 82.3 74.7 83.4 75.2 84.4 75.6 85.5 76 86.6 76.4 87.7 76.9 88.8 77.4 89.8 77.9 90.9 78.4 92 79 93.1 79.5 94.2 80.1 95.3 80.7 96.4 81.4 97.5 82.1 98.6 82.8 138.6 17 137.6 16.5 136.7 15.9 135.8 15.4 134.9 14.9 134 14.4 133.1 14 132.2 13.6 131.3 13.2 130.3 12.8 129.4 12.5 128.5 12.2 127.6 11.9 126.7 11.6 125.8 11.4 124.9 11.1 123.9 10.9 123 10.6 122.1 10.4 121.2 10.2 120.3 9.9 119.4 9.7Z" fill="#FFFF00" stroke="#FFFF00" stroke-width="0.6"/>
<path d="M98.6 82.8 99.3 83.3 100 83.8 100.8 84.3 101.5 84.8 102.3 85.2 142.6 19.9 141.8 19.2 141 18.5 140.2 18 139.4 17.4 138.6 17Z" fill="#FFC800" stroke="#FFC800" stroke-width="0.6"/>
<path d="M102.3 85.2 103.4 85.9 104.5 86.6 105.6 87.2 106.8 87.7 107.9 87.6 109 87 110.1 86 111.1 84.8 112.2 83.6 113.3 82.5 114.5 81 115.6 79.4 116.7 78.3 117.8 78 155.9 16.4 154.9 17.5 153.9 18.8 152.9 20.1 151.9 21.3 150.9 22.3 149.9 23.1 149 23.6 148 23.6 147.1 23.3 146.2 22.8 145.3 22.2 144.4 21.5 143.5 20.7 142.6 19.9Z" fill="#FF9A00" stroke="#FF9A00" stroke-width="0.6"/>
<path d="M117.8 78 119 78.4 120.2 79 121.3 79.8 122.5 81 123.6 82.6 124.8 84.2 160.9 17.2 160.2 16 159.4 15.2 158.5 14.9 157.7 15.1 156.8 15.6 155.9 16.4Z" fill="#FF00FF" stroke="#FF00FF" stroke-width="0.6"/>
<path d="M124.8 84.2 126 85.8 127.1 87.4 128.3 88.8 129.5 90 130.6 90.6 131.8 91.1 165.1 24.4 164.4 23.2 163.7 21.9 163 20.6 162.3 19.4 161.6 18.4 160.9 17.2Z" fill="#FFFF00" stroke="#FFFF00" stroke-width="0.6"/>
<linearGradient id="g1" gradientUnits="userSpaceOnUse" x1="137.1" y1="92.7" x2="169.9" y2="26"><stop offset="0.45" stop-color="#FFFF00"/><stop offset="0.6" stop-color="#FF9A00"/></linearGradient>
<path d="M131.8 91.1 132.9 91.6 133.9 92 135 92.4 136 92.7 137.1 93 138.1 93.3 139.2 93.5 140.2 93.5 141.3 93.5 142.4 93.3 174.7 26.3 173.7 26.3 172.8 26.3 171.8 26.3 170.8 26.3 169.8 26.2 168.9 26.2 167.9 26.1 166.9 25.9 166 25.5 165.1 24.4Z" fill="url(#g1)" stroke="url(#g1)" stroke-width="0.6"/>
<path d="M142.4 93.3 143.5 93 144.6 92.7 145.6 92.4 146.7 92.2 147.8 92 148.9 91.8 150 91.6 151.1 91.4 152.2 91.2 153.3 91.1 154.4 90.9 155.5 90.8 156.7 90.7 157.8 90.6 158.9 90.6 160 90.6 161.1 90.6 162.2 90.6 163.3 90.7 164.4 90.7 194.7 21.1 193.7 21 192.7 20.9 191.7 20.9 190.7 20.9 189.7 21 188.7 21.2 187.7 21.4 186.7 21.6 185.7 21.8 184.7 22 183.7 22.3 182.7 22.8 181.7 23.3 180.7 23.9 179.7 24.4 178.7 25 177.7 25.5 176.7 25.9 175.7 26.2 174.7 26.3Z" fill="#FFFF00" stroke="#FFFF00" stroke-width="0.6"/>
<path d="M164.4 90.7 165.6 90.7 166.8 90.8 168 90.9 169.2 91 170.4 91.1 171.6 91.2 172.8 91.3 174 91.5 199.7 22 199.1 21.9 198.4 21.7 197.8 21.6 197.2 21.5 196.5 21.4 195.9 21.3 195.3 21.2 194.7 21.1Z" fill="#FF00FF" stroke="#FF00FF" stroke-width="0.6"/>
<path d="M59 29.9 60.5 30.2 62.1 30.4 63.6 30.7 65.2 31 66.8 31.3 68.3 31.6 69.9 31.8 71.5 32.1 73.1 32.4 74.7 32.7 76.2 33 77.8 33.2 79.4 33.5 81 33.8 82.6 34.1 84.2 34.4 85.8 34.7 87.4 35 89 35.3 90.6 35.6 92.3 35.9 93.9 36.2 95.5 36.5 97.1 36.9 98.7 37.2 100.4 37.5 102 37.9 103.6 38.3 105.3 38.8 106.9 39.4 108.6 39.9" fill="none" stroke="#380038" stroke-opacity="0.30" stroke-width="8"/>
<path d="M59 29.9 60.5 30.2 62.1 30.4 63.6 30.7 65.2 31 66.8 31.3 68.3 31.6 69.9 31.8 71.5 32.1 73.1 32.4 74.7 32.7 76.2 33 77.8 33.2 79.4 33.5 81 33.8 82.6 34.1 84.2 34.4 85.8 34.7 87.4 35 89 35.3 90.6 35.6 92.3 35.9 93.9 36.2 95.5 36.5 97.1 36.9 98.7 37.2 100.4 37.5 102 37.9 103.6 38.3 105.3 38.8 106.9 39.4 108.6 39.9" fill="none" stroke="#380038" stroke-opacity="0.50" stroke-width="4.5"/>
<path d="M108.6 39.9 111.1 40.9 113.7 42 116.3 43.3" fill="none" stroke="#380038" stroke-opacity="0.21" stroke-width="8"/>
<path d="M108.6 39.9 111.1 40.9 113.7 42 116.3 43.3" fill="none" stroke="#380038" stroke-opacity="0.35" stroke-width="4.5"/>
<path d="M116.3 43.3 118.8 44.7 121.4 46.3 124 48.1" fill="none" stroke="#380038" stroke-opacity="0.14" stroke-width="8"/>
<path d="M116.3 43.3 118.8 44.7 121.4 46.3 124 48.1" fill="none" stroke="#380038" stroke-opacity="0.23" stroke-width="4.5"/>
<path d="M108.6 39.9 110.8 40.8 113 41.7 115.2 42.7 117.4 43.9 119.6 45.2 121.8 46.5 124 48.1 124 48.1 125.4 49.2 126.8 50.2 128.1 51.1 129.5 51.7 131 51.6 132.4 50.7 133.8 49.3 135.3 47.8 136.7 45.8 138.2 44.1 139.7 43.2 141.1 43.1 142.6 43.6 144 45.2 145.4 47.2 146.7 49.2 148.1 51.3 149.5 53.2 150.9 54.3 152.3 54.8 153.7 55.2 155.2 55.5 156.6 55.7 158.1 55.9 159.5 55.8 161 55.7 162.5 55.3 164 54.8 165.5 54.2 167.1 53.6 168.6 53.1 170.1 52.6 171.7 52.2 173.2 52 174.7 51.8 176.3 51.6 177.8 51.5 179.3 51.5 180.8 51.5 182.4 51.7 183.9 51.8 185.4 52 186.9 52.2 188.4 52.4" fill="none" stroke="#302010" stroke-opacity="0.28" stroke-width="3.2"/>
<path d="M27.2 63.1 28.4 63.3 29.5 63.6 30.6 63.8 31.8 64 32.9 64.3 34.1 64.5 35.2 64.7 36.4 65 37.5 65.2 38.7 65.4 39.8 65.7 41 65.9 42.1 66.1 43.3 66.3 44.4 66.6 45.6 66.8 46.8 67 47.9 67.3 49.1 67.5 50.2 67.7 51.4 67.9 52.6 68.2 53.8 68.4 54.9 68.6 56.1 68.8 57.3 69.1 58.4 69.3 59.6 69.5 60.8 69.7 62 69.9 63.2 70.2 64.3 70.4 65.5 70.6 66.7 70.8 67.9 71 69.1 71.2 70.3 71.5 71.5 71.7 72.7 71.9 73.9 72.1 75.1 72.4 76.3 72.7 77.5 73 78.7 73.4 79.9 73.8 81.1 74.3 82.4 74.8 83.6 75.3 84.8 75.7 86.1 76.2 87.3 76.7 88.5 77.3 89.8 77.8 91 78.5 92.2 79.1 93.5 79.7 94.7 80.4 96 81.1 97.2 81.9 98.4 82.8 99.7 83.6 100.9 84.4 102.2 85.1 103.4 85.9 104.7 86.7 105.9 87.4 107.1 87.7 108.3 87.4 109.5 86.5 110.7 85.3 111.9 83.9 113.1 82.7 114.4 81.1 115.6 79.4 116.8 78.2 118.1 78 119.4 78.6 120.6 79.3 121.9 80.3 123.2 82 124.4 83.8 125.7 85.4 127 87.1 128.2 88.7 129.5 90 130.7 90.6 132 91.2 133.2 91.7 134.5 92.2 135.8 92.6 137 93 138.3 93.3 139.6 93.5 140.8 93.5 142.1 93.3 143.4 93 144.7 92.7 146 92.3 147.3 92 148.7 91.8 150 91.6 151.3 91.4 152.6 91.2 154 91 155.3 90.8 156.6 90.7 157.9 90.6 159.3 90.6 160.6 90.6 161.9 90.6 163.3 90.7 164.6 90.7 166 90.8 167.3 90.8 168.6 90.9 170 91 171.3 91.2 172.7 91.3 174 91.5 199.7 22 198.7 21.8 197.6 21.6 196.6 21.4 195.6 21.3 194.5 21.1 193.5 21 192.5 20.9 191.4 20.9 190.4 21 189.3 21.1 188.3 21.3 187.2 21.5 186.2 21.7 185.1 21.9 184 22.2 183 22.6 181.9 23.2 180.8 23.8 179.7 24.4 178.7 25 177.6 25.5 176.6 25.9 175.5 26.2 174.5 26.3 173.5 26.3 172.5 26.3 171.5 26.3 170.5 26.3 169.5 26.2 168.5 26.1 167.5 26 166.6 25.9 165.6 25.1 164.7 23.8 163.8 22.1 162.9 20.4 162 19 161.1 17.5 160.2 16.1 159.3 15.1 158.3 14.9 157.3 15.3 156.2 16.1 155.2 17.2 154.1 18.4 153.1 19.8 152 21.1 151 22.2 150 23.1 149 23.6 148 23.6 147.1 23.3 146.1 22.8 145.2 22.1 144.2 21.4 143.3 20.5 142.4 19.7 141.4 18.9 140.5 18.2 139.5 17.5 138.6 17 137.6 16.4 136.7 15.9 135.7 15.4 134.8 14.9 133.8 14.4 132.9 13.9 131.9 13.4 131 13 130 12.7 129.1 12.3 128.1 12 127.1 11.8 126.2 11.5 125.2 11.2 124.3 11 123.3 10.7 122.4 10.5 121.4 10.2 120.5 10 119.5 9.8 118.6 9.6 117.7 9.3 116.7 9.1 115.8 8.9 114.8 8.7 113.9 8.5 112.9 8.4 112 8.2 111.1 8 110.1 7.8 109.2 7.6 108.2 7.4 107.3 7.2 106.4 7.1 105.4 6.9 104.5 6.7 103.6 6.6 102.6 6.4 101.7 6.2 100.8 6.1 99.9 5.9 98.9 5.8 98 5.6 97.1 5.5 96.2 5.3 95.2 5.2 94.3 5 93.4 4.9 92.5 4.7 91.6 4.6 90.6 4.5 89.7 4.3 88.8 4.2 87.9 4 87 3.9 86.1 3.8 85.2 3.6 84.2 3.5Z" fill="none" stroke="#3ADA3A" stroke-width="1.6" stroke-linejoin="round"/>
<path d="M281.7 58.1 282.7 58.3 283.7 58.6 284.7 58.8 285.6 59.1 286.6 59.3 287.6 59.6 288.6 59.9 289.6 60.1 290.6 60.4 291.5 60.6 292.5 60.9 293.5 61.2 294.5 61.4 295.5 61.7 296.5 62 297.5 62.2 298.5 62.5 299.5 62.8 300.5 63.1 301.5 63.3 302.5 63.6 303.5 63.9 304.5 64.2 305.5 64.4 306.5 64.7 307.5 65 308.5 65.3 309.5 65.6 310.5 65.9 311.5 66.2 312.5 66.5 313.5 66.8 314.6 67.1 315.6 67.4 316.6 67.7 317.6 68.1 318.6 68.4 319.7 68.7 320.7 69 321.7 69.4 322.7 69.7 323.8 70.1 324.8 70.4 325.8 70.8 326.8 71.2 327.9 71.5 328.9 71.9 329.9 72.3 331 72.7 332 73.3 333.1 73.8 334.2 74.5 335.2 75.2 381.9 11.8 381.2 11.6 380.5 11.4 379.7 11.1 379 10.9 378.3 10.7 377.6 10.5 376.9 10.2 376.2 10 375.5 9.8 374.8 9.6 374.1 9.4 373.4 9.2 372.6 9 371.9 8.8 371.2 8.6 370.5 8.4 369.8 8.2 369.1 8.1 368.4 7.9 367.7 7.7 367 7.5 366.3 7.3 365.6 7.2 364.9 7 364.2 6.8 363.5 6.6 362.8 6.5 362.1 6.3 361.4 6.1 360.7 6 360 5.8 359.3 5.6 358.6 5.4 357.9 5.3 357.2 5.1 356.5 4.9 355.8 4.8 355.1 4.6 354.4 4.4 353.7 4.3 353 4.1 352.3 3.9 351.6 3.8 350.9 3.6 350.3 3.5 349.6 3.3 348.9 3.1 348.2 3 347.5 2.8 346.8 2.7 346.1 2.5 345.4 2.4 344.7 2.2Z" fill="#FF00FF" stroke="#FF00FF" stroke-width="0.6"/>
<path d="M335.2 75.2 336.3 76 337.3 76.8 338.4 77.6 339.5 78.7 340.6 80 341.7 81.4 342.8 82.7 343.9 84.1 345 85.3 346.1 86.5 347.2 87.6 348.2 88.7 349.3 89.8 350.4 90.8 393.8 20.3 392.9 19.5 392.1 18.8 391.2 18 390.4 17.2 389.5 16.5 388.7 15.8 387.8 15.1 387 14.4 386.1 13.8 385.3 13.3 384.4 12.8 383.6 12.4 382.7 12.1 381.9 11.8Z" fill="#FF0000" stroke="#FF0000" stroke-width="0.6"/>
<path d="M350.4 90.8 351.3 91.6 352.1 92.4 353 93.2 353.8 94 354.7 94.9 355.6 95.7 356.4 96.3 357.2 96.8 358.1 96.9 358.9 96.6 359.6 95.8 360.4 94.7 361.1 93.3 361.9 91.8 362.6 90.3 363.4 88.8 364.2 87.4 364.9 85.9 365.7 84 366.5 82.1 367.2 80.4 368 79.2 368.9 78.9 413.1 22.9 412.2 24.6 411.3 26.1 410.5 27.8 409.6 29.4 408.8 30.9 407.9 32.1 407.1 32.8 406.2 33 405.4 32.6 404.6 32.1 403.7 31.4 402.9 30.7 402.1 29.9 401.3 29.1 400.4 28.2 399.6 27.3 398.8 26.2 397.9 25.2 397.1 24.1 396.3 23.1 395.4 22.1 394.6 21.1 393.8 20.3Z" fill="#FF9A00" stroke="#FF9A00" stroke-width="0.6"/>
<path d="M368.9 78.9 369.4 79.2 370 79.7 370.6 80.4 371.2 81.3 371.8 82.3 372.5 83.3 373.1 84.4 373.7 85.5 419.8 21.1 419 19.5 418.2 18 417.4 17 416.5 16.7 415.7 17.4 414.8 19 414 20.9 413.1 22.9Z" fill="#FF00FF" stroke="#FF00FF" stroke-width="0.6"/>
<path d="M373.7 85.5 374.8 87.9 375.9 90.9 377.1 93.9 378.2 96.5 379.3 98.6 380.4 100.6 381.5 102.1 423.8 33 423.2 31.7 422.7 30.1 422.1 28.1 421.5 26 420.9 24 420.4 22.4 419.8 21.1Z" fill="#FF0000" stroke="#FF0000" stroke-width="0.6"/>
<path d="M381.5 102.1 382.3 102.6 383.2 102.6 384.1 102.5 384.9 102.1 385.8 101.6 386.6 101.1 387.5 100.5 429.2 36.1 428.4 36.5 427.6 36.8 426.8 36.9 426.1 36.6 425.3 35.8 424.6 34.5 423.8 33Z" fill="#FF9A00" stroke="#FF9A00" stroke-width="0.6"/>
<path d="M387.5 100.5 388.5 100 389.5 99.5 390.6 98.9 391.6 98.4 392.6 97.8 393.7 97.2 394.7 96.7 395.8 96.1 396.8 95.6 397.9 95.2 399 94.8 400 94.4 401.1 94.1 435 31.4 434.6 31.8 434.1 32.3 433.6 32.8 433.2 33.2 432.8 33.6 432.3 33.9 431.9 34.2 431.4 34.5 431 34.9 430.5 35.2 430.1 35.5 429.7 35.8 429.2 36.1Z" fill="#FF0000" stroke="#FF0000" stroke-width="0.6"/>
<path d="M401.1 94.1 402.1 93.8 403.1 93.5 404.1 93.3 405.1 93.1 406.1 92.8 407.1 92.6 408.1 92.4 438.5 28.9 438 29.1 437.5 29.4 437 29.7 436.5 30 436 30.4 435.5 30.9 435 31.4Z" fill="#C80850" stroke="#C80850" stroke-width="0.6"/>
<path d="M408.1 92.4 408.6 92.3 409.2 92.3 409.7 92.2 410.2 92.1 410.7 92 411.3 91.9 411.8 91.9 412.3 91.8 412.9 91.7 413.4 91.7 413.9 91.6 414.4 91.5 415 91.5 415.5 91.4 416 91.4 416.6 91.4 417.1 91.3 417.6 91.3 418.2 91.3 418.7 91.2 419.3 91.2 457.3 23 456.4 23.2 455.5 23.5 454.6 23.7 453.7 24 452.8 24.2 451.9 24.5 451 24.7 450.1 25 449.2 25.3 448.3 25.5 447.4 25.8 446.5 26.1 445.6 26.4 444.7 26.6 443.8 26.9 442.9 27.2 442 27.5 441.2 27.8 440.3 28.1 439.4 28.5 438.5 28.9Z" fill="#F510D8" stroke="#F510D8" stroke-width="0.6"/>
<path d="M316.7 27.1 318.2 27.4 319.7 27.8 321.2 28.2 322.7 28.5 324.2 28.9 325.7 29.3 327.2 29.6 328.7 30 330.2 30.4 331.7 30.8 333.2 31.2 334.8 31.6 336.3 32 337.8 32.4 339.3 32.8 340.9 33.2 342.4 33.6 343.9 34 345.5 34.4 347 34.9 348.6 35.3 350.1 35.8 351.6 36.3 353.2 36.8 354.8 37.3 356.3 37.8 357.9 38.3 359.4 38.9 361 39.6 362.6 40.5 364.2 41.6 365.8 42.8 367.4 44.1 369 45.6 370.6 47.4" fill="none" stroke="#380038" stroke-opacity="0.30" stroke-width="8"/>
<path d="M316.7 27.1 318.2 27.4 319.7 27.8 321.2 28.2 322.7 28.5 324.2 28.9 325.7 29.3 327.2 29.6 328.7 30 330.2 30.4 331.7 30.8 333.2 31.2 334.8 31.6 336.3 32 337.8 32.4 339.3 32.8 340.9 33.2 342.4 33.6 343.9 34 345.5 34.4 347 34.9 348.6 35.3 350.1 35.8 351.6 36.3 353.2 36.8 354.8 37.3 356.3 37.8 357.9 38.3 359.4 38.9 361 39.6 362.6 40.5 364.2 41.6 365.8 42.8 367.4 44.1 369 45.6 370.6 47.4" fill="none" stroke="#380038" stroke-opacity="0.50" stroke-width="4.5"/>
<path d="M370.6 47.4 373.1 50.3 375.6 53.2 378.1 56" fill="none" stroke="#380038" stroke-opacity="0.21" stroke-width="8"/>
<path d="M370.6 47.4 373.1 50.3 375.6 53.2 378.1 56" fill="none" stroke="#380038" stroke-opacity="0.35" stroke-width="4.5"/>
<path d="M378.1 56 380.6 58.3 383 60.6 385.5 61.2" fill="none" stroke="#380038" stroke-opacity="0.14" stroke-width="8"/>
<path d="M378.1 56 380.6 58.3 383 60.6 385.5 61.2" fill="none" stroke="#380038" stroke-opacity="0.23" stroke-width="4.5"/>
<path d="M370.6 47.4 372.8 49.9 374.9 52.4 377 54.8 379.2 57 381.3 59 383.4 60.8 385.5 61.2 385.5 61.2 386.7 60.1 387.8 58.3 389 56 390.2 53.8 391.3 51.7 392.5 49 393.7 46.2 395 44.4 396.2 44.6 397.4 46.1 398.7 48.4 399.9 50.8 401.1 54.2 402.3 58 403.5 61 404.7 63.4 405.9 65.4 407.2 66 408.4 65.9 409.6 65.3 410.9 64.6 412.1 63.7 413.4 63 414.6 62.1 415.9 61.1 417.2 60.1 418.4 59.3 419.7 58.6 421 58 422.3 57.5 423.5 57.1 424.8 56.7 426.1 56.3 427.4 55.9 428.7 55.6 430 55.3 431.3 54.9 432.6 54.6 433.9 54.3 435.2 54.1 436.5 53.8 437.8 53.6 439.2 53.4 440.5 53.2" fill="none" stroke="#302010" stroke-opacity="0.28" stroke-width="3.2"/>
<path d="M281.7 58.1 282.8 58.3 283.9 58.6 285 58.9 286 59.2 287.1 59.5 288.2 59.8 289.3 60 290.4 60.3 291.5 60.6 292.5 60.9 293.6 61.2 294.7 61.5 295.8 61.8 296.9 62.1 298 62.4 299.1 62.7 300.2 63 301.3 63.3 302.4 63.6 303.5 63.9 304.6 64.2 305.7 64.5 306.8 64.8 307.9 65.1 309 65.5 310.1 65.8 311.2 66.1 312.3 66.4 313.5 66.8 314.6 67.1 315.7 67.5 316.8 67.8 317.9 68.2 319.1 68.5 320.2 68.9 321.3 69.3 322.4 69.6 323.6 70 324.7 70.4 325.8 70.8 327 71.2 328.1 71.6 329.3 72 330.4 72.5 331.5 73 332.7 73.6 333.9 74.3 335 75.1 336.2 75.9 337.4 76.8 338.6 77.8 339.8 79.1 341 80.5 342.3 82 343.5 83.6 344.7 85 345.9 86.3 347.1 87.5 348.3 88.7 349.5 89.9 350.7 91.1 351.9 92.2 353 93.3 354.2 94.4 355.4 95.5 356.6 96.5 357.7 96.9 358.8 96.6 359.9 95.4 360.9 93.7 361.9 91.7 363 89.6 364 87.6 365.1 85.5 366.1 82.9 367.2 80.5 368.3 79 369.5 79.2 370.7 80.5 371.9 82.4 373.2 84.6 374.4 87 375.7 90.2 377 93.6 378.2 96.5 379.4 98.8 380.6 101 381.8 102.4 383 102.7 384.2 102.4 385.3 101.9 386.5 101.2 387.6 100.4 388.8 99.8 390 99.2 391.1 98.6 392.3 98 393.5 97.3 394.7 96.7 395.9 96.1 397.1 95.5 398.3 95 399.5 94.6 400.7 94.2 401.9 93.9 403.1 93.5 404.4 93.2 405.6 92.9 406.8 92.7 408 92.5 409.3 92.2 410.5 92 411.8 91.9 413 91.7 414.2 91.6 415.5 91.5 416.7 91.4 418 91.3 419.3 91.2 457.3 23 456.3 23.3 455.2 23.5 454.2 23.8 453.2 24.1 452.1 24.4 451.1 24.7 450.1 25 449 25.3 448 25.6 447 25.9 446 26.3 445 26.6 443.9 26.9 442.9 27.2 441.9 27.5 440.9 27.9 439.9 28.3 438.9 28.7 437.9 29.2 436.9 29.8 435.8 30.6 434.8 31.6 433.8 32.6 432.8 33.6 431.8 34.3 430.8 35 429.8 35.7 428.8 36.3 427.8 36.7 426.9 36.9 425.9 36.5 425 35.3 424.1 33.6 423.2 31.6 422.3 29 421.5 25.8 420.6 23 419.7 21 418.7 19.1 417.8 17.5 416.9 16.7 415.9 17.1 414.9 18.8 413.9 21.1 412.9 23.4 411.9 25.1 410.9 26.9 410 28.7 409 30.5 408.1 31.9 407.1 32.8 406.2 32.9 405.2 32.6 404.3 31.9 403.4 31.1 402.5 30.2 401.5 29.4 400.6 28.5 399.7 27.4 398.8 26.2 397.8 25.1 396.9 23.9 396 22.7 395 21.6 394.1 20.6 393.2 19.8 392.2 18.9 391.3 18.1 390.4 17.2 389.4 16.4 388.5 15.6 387.6 14.9 386.6 14.2 385.7 13.6 384.8 13 383.8 12.6 382.9 12.2 382 11.9 381.1 11.6 380.1 11.3 379.2 11 378.3 10.7 377.4 10.4 376.4 10.1 375.5 9.8 374.6 9.6 373.7 9.3 372.8 9 371.9 8.8 370.9 8.5 370 8.3 369.1 8.1 368.2 7.8 367.3 7.6 366.4 7.4 365.5 7.1 364.5 6.9 363.6 6.7 362.7 6.5 361.8 6.2 360.9 6 360 5.8 359.1 5.6 358.2 5.3 357.3 5.1 356.4 4.9 355.5 4.7 354.6 4.5 353.7 4.3 352.8 4.1 351.9 3.8 351 3.6 350.1 3.4 349.2 3.2 348.3 3 347.4 2.8 346.5 2.6 345.6 2.4 344.7 2.2Z" fill="none" stroke="#FFE800" stroke-width="1.5" stroke-linejoin="round"/>
<path d="M504.3 57 568.9 73.2 566.8 3.2ZM568.9 73.2 570.6 73.6 568 2.2 566.8 3.2ZM570.6 73.6 572.2 74 569.3 1.6 568.8 1.5 568 2.2ZM572.2 74 573.8 74.6 570.5 2 569.3 1.6ZM573.8 74.6 575.5 75.1 571.8 2.4 570.5 2ZM575.5 75.1 577.1 75.7 573 2.8 571.8 2.4ZM577.1 75.7 578.8 76.4 574.3 3.2 573 2.8ZM578.8 76.4 580.4 77.1 575.6 3.7 574.3 3.2ZM580.4 77.1 582.1 77.7 576.8 4.2 575.6 3.7ZM582.1 77.7 583.8 78.4 578.1 4.7 576.8 4.2ZM583.8 78.4 585.4 79.1 579.4 5.1 578.1 4.7ZM585.4 79.1 587.1 79.7 580.7 5.6 579.4 5.1ZM587.1 79.7 588.8 80.4 581.9 6.1 580.7 5.6ZM588.8 80.4 590.4 81.2 583.2 6.6 581.9 6.1ZM590.4 81.2 592.1 81.9 584.5 7.2 583.2 6.6ZM592.1 81.9 593.8 82.7 585.8 7.8 584.5 7.2ZM593.8 82.7 595.5 83.6 587.1 8.4 585.8 7.8ZM595.5 83.6 595.9 83.8 587.4 8.6 587.1 8.4Z" fill="#0000FF" stroke="#0000FF" stroke-width="0.3"/>
<path d="M595.9 83.8 597.3 84.7 588.5 9.3 587.4 8.6ZM597.3 84.7 598.7 85.7 589.6 10 588.5 9.3ZM598.7 85.7 600.1 86.8 590.6 10.8 589.6 10ZM600.1 86.8 600.8 87.3 591.2 11.3 590.6 10.8Z" fill="#0058C8" stroke="#0058C8" stroke-width="0.3"/>
<path d="M600.8 87.3 602.2 88.5 592.3 12.2 591.2 11.3ZM602.2 88.5 603.6 89.8 593.3 13.2 592.3 12.2ZM603.6 89.8 605 91.2 594.4 14.3 593.3 13.2ZM605 91.2 606.4 92.6 595.5 15.5 594.4 14.3Z" fill="#00D050" stroke="#00D050" stroke-width="0.3"/>
<path d="M606.4 92.6 607.8 94.1 596.6 16.7 595.5 15.5ZM607.8 94.1 609.2 95.6 597.6 17.9 596.6 16.7ZM609.2 95.6 610.6 97.2 598.7 19.2 597.6 17.9ZM610.6 97.2 612 98.9 599.8 20.5 598.7 19.2Z" fill="#00FF00" stroke="#00FF00" stroke-width="0.3"/>
<path d="M612 98.9 613.4 100.4 600.9 21.8 599.8 20.5ZM613.4 100.4 614.7 102.1 601.9 23.1 600.9 21.8ZM614.7 102.1 616.1 103.8 603 24.6 601.9 23.1ZM616.1 103.8 617.5 105.4 604.1 25.9 603 24.6ZM617.5 105.4 618.9 106.6 605.1 26.8 604.1 25.9ZM618.9 106.6 619.6 106.9 605.7 27 605.1 26.8Z" fill="#FF0000" stroke="#FF0000" stroke-width="0.3"/>
<path d="M619.6 106.9 621 106.4 606.7 26.5 605.7 27ZM621 106.4 622.5 104.8 607.8 25 606.7 26.5ZM622.5 104.8 624 102.8 608.9 23.2 607.8 25ZM624 102.8 625.5 100.2 610 20.8 608.9 23.2ZM625.5 100.2 626.3 98.5 610.6 19.2 610 20.8Z" fill="#A00000" stroke="#A00000" stroke-width="0.3"/>
<path d="M626.3 98.5 627.9 95.1 611.7 16.2 610.6 19.2ZM627.9 95.1 629.5 92.4 612.9 13.8 611.7 16.2ZM629.5 92.4 631.1 89.9 614 11.5 612.9 13.8ZM631.1 89.9 632.3 89.2 614.9 10.8 614 11.5Z" fill="#005A10" stroke="#005A10" stroke-width="0.3"/>
<path d="M632.3 89.2 633.8 89.7 616 11.2 614.9 10.8ZM633.8 89.7 635.3 90.5 617.1 11.8 616 11.2ZM635.3 90.5 636.7 92.5 618.2 13.4 617.1 11.8ZM636.7 92.5 637.9 96.3 619.3 16.6 618.2 13.4ZM637.9 96.3 638.2 97.1 619.5 17.2 619.3 16.6Z" fill="#0000E0" stroke="#0000E0" stroke-width="0.3"/>
<path d="M638.2 97.1 639.5 100.5 639.5 100.5 620.5 20.1 619.5 17.2ZM639.5 100.5 639.5 100.5 640.2 102.1 621.5 23.2 620.5 20.1ZM640.2 102.1 641 103.6 622.6 26.1 621.5 23.2ZM641 103.6 641.8 104.1 623.6 28.2 622.6 26.1ZM641.8 104.1 642.7 102.9 624.7 28.9 623.6 28.2ZM642.7 102.9 643.7 100.8 625.8 28.6 624.7 28.9Z" fill="#E00000" stroke="#E00000" stroke-width="0.3"/>
<path d="M643.7 100.8 644.7 98.2 626.9 27.9 625.8 28.6ZM644.7 98.2 645.7 95.5 628.1 27.2 626.9 27.9ZM645.7 95.5 646.7 92.8 629.2 26.4 628.1 27.2ZM646.7 92.8 647.7 90 630.4 25.5 629.2 26.4Z" fill="#B00000" stroke="#B00000" stroke-width="0.3"/>
<path d="M647.7 90 648.7 87.1 631.6 24.5 630.4 25.5ZM648.7 87.1 649.7 84.4 632.7 23.6 631.6 24.5ZM649.7 84.4 650.7 81.8 633.9 22.9 632.7 23.6ZM650.7 81.8 651.7 79.4 635.1 22.2 633.9 22.9ZM651.7 79.4 652.6 76.9 636.3 21.5 635.1 22.2ZM652.6 76.9 653.6 74.5 637.4 20.8 636.3 21.5ZM653.6 74.5 654.5 72.1 638.6 20.2 637.4 20.8Z" fill="#00B000" stroke="#00B000" stroke-width="0.3"/>
<path d="M654.5 72.1 655.4 69.9 639.8 19.7 638.6 20.2ZM655.4 69.9 656.3 67.8 641 19.3 639.8 19.7ZM656.3 67.8 657.2 65.8 642.2 19 641 19.3ZM657.2 65.8 658.1 64 643.3 18.8 642.2 19ZM658.1 64 658.9 62.3 644.5 18.7 643.3 18.8ZM658.9 62.3 659.8 60.7 645.7 18.6 644.5 18.7Z" fill="#007A70" stroke="#007A70" stroke-width="0.3"/>
<path d="M659.8 60.7 660.8 58.7 647.1 18.6 645.7 18.6ZM660.8 58.7 661.8 56.8 648.5 18.5 647.1 18.6ZM661.8 56.8 662.8 54.9 649.9 18.5 648.5 18.5ZM662.8 54.9 663.7 53.1 651.4 18.5 649.9 18.5ZM663.7 53.1 664.7 51.4 652.8 18.6 651.4 18.5ZM664.7 51.4 665.6 49.7 654.2 18.7 652.8 18.6ZM665.6 49.7 666.5 48 655.6 18.8 654.2 18.7ZM666.5 48 667.5 46.5 657 19 655.6 18.8ZM667.5 46.5 668.4 44.9 658.5 19.2 657 19ZM668.4 44.9 669.2 43.5 659.9 19.4 658.5 19.2ZM669.2 43.5 681.5 23.4 659.9 19.4Z" fill="#0000FF" stroke="#0000FF" stroke-width="0.3"/>
<path d="M504.3 57 505.5 57.3 506.8 57.6 508 57.9 509.3 58.3 510.5 58.6 511.8 58.9 513 59.2 514.3 59.5 515.6 59.8 516.8 60.2 518.1 60.5 519.4 60.8 520.7 61.1 521.9 61.4 523.2 61.7 524.5 62.1 525.8 62.4 527.1 62.7 528.4 63 529.7 63.4 531 63.7 532.3 64 533.6 64.3 534.9 64.7 536.2 65 537.5 65.3 538.8 65.6 540.1 66 541.4 66.3 542.7 66.6 544.1 66.9 545.4 67.3 546.7 67.6 548 67.9 549.4 68.3 550.7 68.6 552 68.9 553.4 69.3 554.7 69.6 556 69.9 557.4 70.3 558.7 70.6 560.1 71 561.4 71.3 562.8 71.6 564.2 72 565.5 72.3 566.9 72.7 568.2 73 569.6 73.3 571 73.7 572.4 74.1 573.7 74.5 575.1 75 576.5 75.5 577.9 76 579.3 76.6 580.7 77.2 582.1 77.7 583.5 78.3 584.9 78.8 586.3 79.4 587.7 80 589.1 80.6 590.5 81.2 591.9 81.8 593.3 82.5 594.8 83.2 596.2 84 597.6 84.9 599 85.9 600.4 87 601.8 88.2 603.3 89.4 604.7 90.8 606.1 92.3 607.5 93.8 608.9 95.3 610.3 96.9 611.7 98.5 613.1 100.1 614.5 101.8 615.9 103.6 617.3 105.2 618.7 106.4 620.1 106.9 621.5 105.9 623 104 624.6 101.9 626.2 98.8 627.8 95.4 629.4 92.6 631 90 632.6 89.2 634 89.8 635.5 90.7 636.9 93.1 638.2 97.1 639.5 100.5 639.5 100.5 639.9 101.3 640.3 102.2 640.7 103 641.1 103.7 641.5 104.1 642 104 642.4 103.5 642.9 102.6 643.4 101.4 644 100.1 644.5 98.8 645 97.3 645.6 96 646.1 94.6 646.6 93.2 647.1 91.7 647.7 90.2 648.2 88.7 648.7 87.2 649.2 85.7 649.8 84.3 650.3 83 650.8 81.6 651.3 80.3 651.8 79 652.3 77.7 652.8 76.4 653.3 75.2 653.8 73.9 654.3 72.7 654.8 71.5 655.2 70.3 655.7 69.2 656.2 68.1 656.7 67 657.1 66 657.6 65 658 64.1 658.5 63.2 658.9 62.3 659.4 61.4 659.8 60.6 660.3 59.7 660.7 58.9 661.1 58 661.6 57.2 662 56.4 662.4 55.5 662.9 54.7 663.3 53.9 663.7 53.1 664.1 52.4 664.6 51.6 665 50.9 665.4 50.1 665.8 49.4 666.2 48.7 666.6 48 667 47.3 667.4 46.6 667.8 45.9 668.2 45.2 668.6 44.6 669 44 669.3 43.3 669.7 42.7 670.1 42 670.5 41.4 670.9 40.8 671.2 40.2 671.6 39.6 672 38.9 672.4 38.3 672.7 37.7 673.1 37.1 673.5 36.5 673.8 35.9 674.2 35.3 674.6 34.7 674.9 34.1 675.3 33.5 675.6 33 676 32.4 676.4 31.8 676.7 31.2 677.1 30.6 677.4 30.1 677.8 29.5 678.1 28.9 678.4 28.4 678.8 27.8 679.1 27.3 679.5 26.7 679.8 26.1 680.1 25.6 680.5 25.1 680.8 24.5 681.2 24 681.5 23.4 681.5 23.4 680.3 23.2 679 23 677.8 22.7 676.6 22.5 675.4 22.2 674.1 22 672.9 21.8 671.7 21.6 670.5 21.3 669.3 21.1 668.1 20.9 666.9 20.7 665.7 20.4 664.5 20.2 663.3 20 662.1 19.8 660.9 19.6 659.7 19.4 658.5 19.2 657.3 19 656.1 18.8 654.9 18.7 653.7 18.6 652.5 18.6 651.3 18.5 650.1 18.5 648.9 18.5 647.7 18.5 646.5 18.6 645.3 18.7 644.2 18.7 643 18.8 641.8 19.1 640.6 19.4 639.4 19.9 638.2 20.4 637 21.1 635.8 21.8 634.6 22.5 633.4 23.2 632.3 23.9 631.1 24.9 629.9 25.9 628.7 26.8 627.6 27.5 626.4 28.2 625.3 28.8 624.2 28.7 623.1 27.3 622 24.7 621 21.6 620 18.7 618.9 15.5 617.9 12.6 616.8 11.5 615.6 11 614.5 10.9 613.4 12.8 612.2 15.2 611 18 609.9 21.1 608.8 23.4 607.7 25.2 606.6 26.6 605.5 26.9 604.4 26.2 603.3 25 602.3 23.6 601.2 22.2 600.1 20.9 599 19.6 597.9 18.3 596.9 17 595.8 15.8 594.7 14.6 593.6 13.5 592.5 12.4 591.4 11.5 590.3 10.6 589.2 9.8 588.1 9 587.1 8.4 586 7.8 584.9 7.3 583.8 6.9 582.7 6.4 581.7 6 580.6 5.6 579.5 5.2 578.4 4.8 577.4 4.4 576.3 4 575.2 3.6 574.1 3.2 573.1 2.8 572 2.4 571 2.1 569.9 1.8 568.8 1.5 568.8 1.5 568.3 1.9 567.8 2.4 567.2 2.9 566.7 3.3 566.2 3.8 565.6 4.2 565.1 4.7 564.6 5.2 564 5.6 563.5 6.1 562.9 6.6 562.4 7 561.8 7.5 561.3 8 560.7 8.5 560.1 9 559.6 9.4 559 9.9 558.5 10.4 557.9 10.9 557.3 11.4 556.7 11.9 556.2 12.4 555.6 12.9 555 13.4 554.4 13.9 553.8 14.4 553.3 14.9 552.7 15.4 552.1 15.9 551.5 16.4 550.9 16.9 550.3 17.4 549.7 18 549.1 18.5 548.5 19 547.9 19.5 547.2 20.1 546.6 20.6 546 21.1 545.4 21.6 544.8 22.2 544.1 22.7 543.5 23.3 542.9 23.8 542.2 24.4 541.6 24.9 541 25.4 540.3 26 539.7 26.6 539 27.1 538.4 27.7 537.7 28.2 537.1 28.8 536.4 29.4 535.8 29.9 535.1 30.5 534.4 31.1 533.8 31.7 533.1 32.2 532.4 32.8 531.7 33.4 531 34 530.4 34.6 529.7 35.2 529 35.8 528.3 36.4 527.6 37 526.9 37.6 526.2 38.2 525.5 38.8 524.8 39.4 524 40 523.3 40.6 522.6 41.2 521.9 41.9 521.2 42.5 520.4 43.1 519.7 43.7 519 44.4 518.2 45 517.5 45.7 516.7 46.3 516 46.9 515.2 47.6 514.5 48.2 513.7 48.9 512.9 49.6 512.2 50.2 511.4 50.9 510.6 51.6 509.8 52.2 509 52.9 508.3 53.6 507.5 54.3 506.7 54.9 505.9 55.6 505.1 56.3 504.3 57Z" fill="none" stroke="#FFE800" stroke-width="1.5" stroke-linejoin="round"/>
<g>
<path d="M49.9 419 L49.9 298.7 L64.9 298.9 L72.6 299.2 L82.7 300.1 L91.6 301.3 L96.7 302.8 L102.6 305.5 L106.4 308 L110.7 311.8 L114.5 315.7 L116.8 318.6 L119.8 323.2 L121.9 327.4 L124.9 334.5 L129.3 346.6 L140.3 381.5 L142.4 386.4 L145 391.1 L146 392.3 L147.5 392.9 L148.4 392.8 L149.4 391.7 L150.1 390.5 L151.1 387.8 L153.4 378.6 L155.1 369.7 L156.6 360 L157.9 349.6 L163 298.1 L165.1 280 L166.2 273.6 L167.4 269.8 L168.3 268.4 L168.7 268.2 L169.1 268.4 L170.2 270.6 L171.2 274 L172.1 279.1 L174.2 296.9 L179.5 350.3 L180.5 359.1 L182 369 L183.7 378 L185.8 386.7 L187.3 390.7 L188.6 392.5 L189.2 392.9 L189.9 392.9 L191.1 392.4 L191.8 391.8 L194.3 387.4 L196.2 383.4 L198.1 378.3 L206 352.9 L209.1 343.4 L214.9 328.6 L217 324.2 L219.3 320.3 L219.3 419Z" fill="#5E81B5" fill-opacity="0.2"/>
<path d="M49.9 419 L49.9 298.7 L64.9 298.9 L72.6 299.2 L82.7 300.1 L91.6 301.3 L96.7 302.8 L102.6 305.5 L106.4 308 L110.7 311.8 L114.5 315.7 L116.8 318.6 L119.8 323.2 L121.9 327.4 L124.9 334.5 L129.3 346.6 L140.3 381.5 L142.4 386.4 L145 391.1 L146 392.3 L147.5 392.9 L148.4 392.8 L149.4 391.7 L150.1 390.5 L151.1 387.8 L153.4 378.6 L155.1 369.7 L156.6 360 L157.9 349.6 L163 298.1 L165.1 280 L166.2 273.6 L167.4 269.8 L168.3 268.4 L168.7 268.2 L169.1 268.4 L170.2 270.6 L171.2 274 L172.1 279.1 L174.2 296.9 L179.5 350.3 L180.5 359.1 L182 369 L183.7 378 L185.8 386.7 L187.3 390.7 L188.6 392.5 L189.2 392.9 L189.9 392.9 L191.1 392.4 L191.8 391.8 L194.3 387.4 L196.2 383.4 L198.1 378.3 L206 352.9 L209.1 343.4 L214.9 328.6 L217 324.2 L219.3 320.3 L219.3 419Z" fill="#E19C24" fill-opacity="0.2"/>
<path d="M49.9 419 L49.9 298.7 L64.9 298.9 L72.6 299.2 L82.7 300.1 L91.6 301.3 L96.7 302.8 L102.6 305.5 L106.4 308 L110.7 311.8 L114.5 315.7 L116.8 318.6 L119.8 323.2 L121.9 327.4 L124.9 334.5 L129.3 346.6 L140.3 381.5 L142.4 386.4 L145 391.1 L146 392.3 L147.5 392.9 L148.4 392.8 L149.4 391.7 L150.1 390.5 L151.1 387.8 L153.4 378.6 L155.1 369.7 L156.6 360 L157.9 349.6 L163 298.1 L165.1 280 L166.2 273.6 L167.4 269.8 L168.3 268.4 L168.7 268.2 L169.1 268.4 L170.2 270.6 L171.2 274 L172.1 279.1 L174.2 296.9 L179.5 350.3 L180.5 359.1 L182 369 L183.7 378 L185.8 386.7 L187.3 390.7 L188.6 392.5 L189.2 392.9 L189.9 392.9 L191.1 392.4 L191.8 391.8 L194.3 387.4 L196.2 383.4 L198.1 378.3 L206 352.9 L209.1 343.4 L214.9 328.6 L217 324.2 L219.3 320.3 L219.3 419Z" fill="#8FB032" fill-opacity="0.2"/>
<path d="M49.9 419 L49.9 298.7 L64.9 298.9 L72.6 299.2 L82.7 300.1 L91.6 301.3 L96.7 302.8 L102.6 305.5 L106.4 308 L110.7 311.8 L114.5 315.7 L116.8 318.6 L119.8 323.2 L121.9 327.4 L124.9 334.5 L129.3 346.6 L140.3 381.5 L142.4 386.4 L145 391.1 L146 392.3 L147.5 392.9 L148.4 392.8 L149.4 391.7 L150.1 390.5 L151.1 387.8 L153.4 378.6 L155.1 369.7 L156.6 360 L157.9 349.6 L163 298.1 L165.1 280 L166.2 273.6 L167.4 269.8 L168.3 268.4 L168.7 268.2 L169.1 268.4 L170.2 270.6 L171.2 274 L172.1 279.1 L174.2 296.9 L179.5 350.3 L180.5 359.1 L182 369 L183.7 378 L185.8 386.7 L187.3 390.7 L188.6 392.5 L189.2 392.9 L189.9 392.9 L191.1 392.4 L191.8 391.8 L194.3 387.4 L196.2 383.4 L198.1 378.3 L206 352.9 L209.1 343.4 L214.9 328.6 L217 324.2 L219.3 320.3 L219.3 419Z" fill="#EB6235" fill-opacity="0.2"/>
<path d="M49.9 419 L49.9 298.6 L64.1 298.8 L81.5 299.4 L92.5 300.4 L98.2 301.3 L105.2 303.4 L108.3 304.6 L110.5 305.7 L112.8 307.2 L115.3 309.2 L121 314.8 L123 317.2 L125.1 320.2 L129.3 327.5 L132.1 333.9 L136.7 346.2 L139.5 355.1 L142.6 366.7 L147.5 388 L151.5 403.7 L154.1 412.4 L156.2 418.8 L156.4 418.9 L160.6 418.9 L161.9 415.2 L162.8 411.2 L164 401.8 L167.4 369.1 L174.4 309.8 L175.5 302.4 L176.1 299.7 L176.5 298.7 L176.9 298.6 L177.4 299.5 L178.4 304.7 L181.6 331 L185.4 357.7 L190.3 389 L191.6 395.9 L193.7 405.6 L195.4 412.4 L197.3 418.9 L200.7 418.9 L200.9 418.7 L204.3 405.7 L210.6 376.8 L219.3 341 L219.3 419Z" fill="#8778B3" fill-opacity="0.2"/>
<path d="M49.9 419 L49.9 299.1 L78.7 300.4 L83.1 301 L87.8 302.1 L95.4 304.7 L99.7 306.9 L102.6 309 L105.6 311.4 L108.8 314.3 L110.7 316.5 L114.9 322.5 L119.1 330.1 L123.4 339.5 L127.8 351.1 L132.1 363.7 L136.9 379.7 L144.1 406.1 L147.1 418.9 L150.5 418.9 L151.3 415.1 L154.9 393.3 L157.5 374.5 L159 361.3 L161.5 332.3 L163.6 315.1 L165.1 306.8 L166.8 300.8 L167.8 298.4 L168.5 298 L168.9 298.2 L170 300.2 L171.9 306.8 L172.9 312.3 L175.5 332.3 L178 361.3 L179.9 377.9 L182.7 397.3 L185.6 415.1 L186.5 418.9 L189.9 418.9 L192.8 406.1 L198.8 384.3 L201.3 375.3 L205.3 362.4 L208.7 352.3 L211.9 343.7 L215.9 334.1 L219.3 327.2 L219.3 419Z" fill="#C56E1A" fill-opacity="0.2"/>
<path d="M49.9 419 L49.9 299.1 L78.7 300.4 L83.1 301 L87.8 302.1 L95.4 304.7 L99.7 306.9 L102.6 309 L105.6 311.4 L108.8 314.3 L110.7 316.5 L114.9 322.5 L119.1 330.1 L123.4 339.5 L127.8 351.1 L132.1 363.7 L136.9 379.7 L144.1 406.1 L147.1 418.9 L150.5 418.9 L151.3 415.1 L154.9 393.3 L157.5 374.5 L159 361.3 L161.5 332.3 L163.6 315.1 L165.1 306.8 L166.8 300.8 L167.8 298.4 L168.5 298 L168.9 298.2 L170 300.2 L171.9 306.8 L172.9 312.3 L175.5 332.3 L178 361.3 L179.9 377.9 L182.7 397.3 L185.6 415.1 L186.5 418.9 L189.9 418.9 L192.8 406.1 L198.8 384.3 L201.3 375.3 L205.3 362.4 L208.7 352.3 L211.9 343.7 L215.9 334.1 L219.3 327.2 L219.3 419Z" fill="#5D9EC7" fill-opacity="0.2"/>
<path d="M49.9 419 L49.9 299.1 L78.7 300.4 L83.1 301 L87.8 302.1 L95.4 304.7 L99.7 306.9 L102.6 309 L105.6 311.4 L108.8 314.3 L110.7 316.5 L114.9 322.5 L119.1 330.1 L123.4 339.5 L127.8 351.1 L132.1 363.7 L136.9 379.7 L144.1 406.1 L147.1 418.9 L150.5 418.9 L151.3 415.1 L154.9 393.3 L157.5 374.5 L159 361.3 L161.5 332.3 L163.6 315.1 L165.1 306.8 L166.8 300.8 L167.8 298.4 L168.5 298 L168.9 298.2 L170 300.2 L171.9 306.8 L172.9 312.3 L175.5 332.3 L178 361.3 L179.9 377.9 L182.7 397.3 L185.6 415.1 L186.5 418.9 L189.9 418.9 L192.8 406.1 L198.8 384.3 L201.3 375.3 L205.3 362.4 L208.7 352.3 L211.9 343.7 L215.9 334.1 L219.3 327.2 L219.3 419Z" fill="#FFBF00" fill-opacity="0.2"/>
<path d="M49.9 419 L49.9 299.1 L78.7 300.4 L83.1 301 L87.8 302.1 L95.4 304.7 L99.7 306.9 L102.6 309 L105.6 311.4 L108.8 314.3 L110.7 316.5 L114.9 322.5 L119.1 330.1 L123.4 339.5 L127.8 351.1 L132.1 363.7 L136.9 379.7 L144.1 406.1 L147.1 418.9 L150.5 418.9 L151.3 415.1 L154.9 393.3 L157.5 374.5 L159 361.3 L161.5 332.3 L163.6 315.1 L165.1 306.8 L166.8 300.8 L167.8 298.4 L168.5 298 L168.9 298.2 L170 300.2 L171.9 306.8 L172.9 312.3 L175.5 332.3 L178 361.3 L179.9 377.9 L182.7 397.3 L185.6 415.1 L186.5 418.9 L189.9 418.9 L192.8 406.1 L198.8 384.3 L201.3 375.3 L205.3 362.4 L208.7 352.3 L211.9 343.7 L215.9 334.1 L219.3 327.2 L219.3 419Z" fill="#A5609D" fill-opacity="0.2"/>
</g><g fill="none" stroke-linejoin="round">
<path d="M49.9 298.7 L64.9 298.9 L72.6 299.2 L82.7 300.1 L91.6 301.3 L96.7 302.8 L102.6 305.5 L106.4 308 L110.7 311.8 L114.5 315.7 L116.8 318.6 L119.8 323.2 L121.9 327.4 L124.9 334.5 L129.3 346.6 L140.3 381.5 L142.4 386.4 L145 391.1 L146 392.3 L147.5 392.9 L148.4 392.8 L149.4 391.7 L150.1 390.5 L151.1 387.8 L153.4 378.6 L155.1 369.7 L156.6 360 L157.9 349.6 L163 298.1 L165.1 280 L166.2 273.6 L167.4 269.8 L168.3 268.4 L168.7 268.2 L169.1 268.4 L170.2 270.6 L171.2 274 L172.1 279.1 L174.2 296.9 L179.5 350.3 L180.5 359.1 L182 369 L183.7 378 L185.8 386.7 L187.3 390.7 L188.6 392.5 L189.2 392.9 L189.9 392.9 L191.1 392.4 L191.8 391.8 L194.3 387.4 L196.2 383.4 L198.1 378.3 L206 352.9 L209.1 343.4 L214.9 328.6 L217 324.2 L219.3 320.3" stroke="#5E81B5" stroke-dasharray="6.5 4.5" stroke-width="1.55"/>
<path d="M49.9 298.7 L64.9 298.9 L72.6 299.2 L82.7 300.1 L91.6 301.3 L96.7 302.8 L102.6 305.5 L106.4 308 L110.7 311.8 L114.5 315.7 L116.8 318.6 L119.8 323.2 L121.9 327.4 L124.9 334.5 L129.3 346.6 L140.3 381.5 L142.4 386.4 L145 391.1 L146 392.3 L147.5 392.9 L148.4 392.8 L149.4 391.7 L150.1 390.5 L151.1 387.8 L153.4 378.6 L155.1 369.7 L156.6 360 L157.9 349.6 L163 298.1 L165.1 280 L166.2 273.6 L167.4 269.8 L168.3 268.4 L168.7 268.2 L169.1 268.4 L170.2 270.6 L171.2 274 L172.1 279.1 L174.2 296.9 L179.5 350.3 L180.5 359.1 L182 369 L183.7 378 L185.8 386.7 L187.3 390.7 L188.6 392.5 L189.2 392.9 L189.9 392.9 L191.1 392.4 L191.8 391.8 L194.3 387.4 L196.2 383.4 L198.1 378.3 L206 352.9 L209.1 343.4 L214.9 328.6 L217 324.2 L219.3 320.3" stroke="#E19C24" stroke-width="1.35"/>
<path d="M49.9 298.7 L64.9 298.9 L72.6 299.2 L82.7 300.1 L91.6 301.3 L96.7 302.8 L102.6 305.5 L106.4 308 L110.7 311.8 L114.5 315.7 L116.8 318.6 L119.8 323.2 L121.9 327.4 L124.9 334.5 L129.3 346.6 L140.3 381.5 L142.4 386.4 L145 391.1 L146 392.3 L147.5 392.9 L148.4 392.8 L149.4 391.7 L150.1 390.5 L151.1 387.8 L153.4 378.6 L155.1 369.7 L156.6 360 L157.9 349.6 L163 298.1 L165.1 280 L166.2 273.6 L167.4 269.8 L168.3 268.4 L168.7 268.2 L169.1 268.4 L170.2 270.6 L171.2 274 L172.1 279.1 L174.2 296.9 L179.5 350.3 L180.5 359.1 L182 369 L183.7 378 L185.8 386.7 L187.3 390.7 L188.6 392.5 L189.2 392.9 L189.9 392.9 L191.1 392.4 L191.8 391.8 L194.3 387.4 L196.2 383.4 L198.1 378.3 L206 352.9 L209.1 343.4 L214.9 328.6 L217 324.2 L219.3 320.3" stroke="#8FB032" stroke-dasharray="6.5 4.5" stroke-width="1.55"/>
<path d="M49.9 298.7 L64.9 298.9 L72.6 299.2 L82.7 300.1 L91.6 301.3 L96.7 302.8 L102.6 305.5 L106.4 308 L110.7 311.8 L114.5 315.7 L116.8 318.6 L119.8 323.2 L121.9 327.4 L124.9 334.5 L129.3 346.6 L140.3 381.5 L142.4 386.4 L145 391.1 L146 392.3 L147.5 392.9 L148.4 392.8 L149.4 391.7 L150.1 390.5 L151.1 387.8 L153.4 378.6 L155.1 369.7 L156.6 360 L157.9 349.6 L163 298.1 L165.1 280 L166.2 273.6 L167.4 269.8 L168.3 268.4 L168.7 268.2 L169.1 268.4 L170.2 270.6 L171.2 274 L172.1 279.1 L174.2 296.9 L179.5 350.3 L180.5 359.1 L182 369 L183.7 378 L185.8 386.7 L187.3 390.7 L188.6 392.5 L189.2 392.9 L189.9 392.9 L191.1 392.4 L191.8 391.8 L194.3 387.4 L196.2 383.4 L198.1 378.3 L206 352.9 L209.1 343.4 L214.9 328.6 L217 324.2 L219.3 320.3" stroke="#EB6235" stroke-width="1.35"/>
<path d="M49.9 298.6 L64.1 298.8 L81.5 299.4 L92.5 300.4 L98.2 301.3 L105.2 303.4 L108.3 304.6 L110.5 305.7 L112.8 307.2 L115.3 309.2 L121 314.8 L123 317.2 L125.1 320.2 L129.3 327.5 L132.1 333.9 L136.7 346.2 L139.5 355.1 L142.6 366.7 L147.5 388 L151.5 403.7 L154.1 412.4 L156.2 418.8 L156.4 418.9 L160.6 418.9 L161.9 415.2 L162.8 411.2 L164 401.8 L167.4 369.1 L174.4 309.8 L175.5 302.4 L176.1 299.7 L176.5 298.7 L176.9 298.6 L177.4 299.5 L178.4 304.7 L181.6 331 L185.4 357.7 L190.3 389 L191.6 395.9 L193.7 405.6 L195.4 412.4 L197.3 418.9 L200.7 418.9 L200.9 418.7 L204.3 405.7 L210.6 376.8 L219.3 341" stroke="#8778B3" stroke-dasharray="6.5 4.5" stroke-width="1.55"/>
<path d="M49.9 299.1 L78.7 300.4 L83.1 301 L87.8 302.1 L95.4 304.7 L99.7 306.9 L102.6 309 L105.6 311.4 L108.8 314.3 L110.7 316.5 L114.9 322.5 L119.1 330.1 L123.4 339.5 L127.8 351.1 L132.1 363.7 L136.9 379.7 L144.1 406.1 L147.1 418.9 L150.5 418.9 L151.3 415.1 L154.9 393.3 L157.5 374.5 L159 361.3 L161.5 332.3 L163.6 315.1 L165.1 306.8 L166.8 300.8 L167.8 298.4 L168.5 298 L168.9 298.2 L170 300.2 L171.9 306.8 L172.9 312.3 L175.5 332.3 L178 361.3 L179.9 377.9 L182.7 397.3 L185.6 415.1 L186.5 418.9 L189.9 418.9 L192.8 406.1 L198.8 384.3 L201.3 375.3 L205.3 362.4 L208.7 352.3 L211.9 343.7 L215.9 334.1 L219.3 327.2" stroke="#C56E1A" stroke-width="1.35"/>
<path d="M49.9 299.1 L78.7 300.4 L83.1 301 L87.8 302.1 L95.4 304.7 L99.7 306.9 L102.6 309 L105.6 311.4 L108.8 314.3 L110.7 316.5 L114.9 322.5 L119.1 330.1 L123.4 339.5 L127.8 351.1 L132.1 363.7 L136.9 379.7 L144.1 406.1 L147.1 418.9 L150.5 418.9 L151.3 415.1 L154.9 393.3 L157.5 374.5 L159 361.3 L161.5 332.3 L163.6 315.1 L165.1 306.8 L166.8 300.8 L167.8 298.4 L168.5 298 L168.9 298.2 L170 300.2 L171.9 306.8 L172.9 312.3 L175.5 332.3 L178 361.3 L179.9 377.9 L182.7 397.3 L185.6 415.1 L186.5 418.9 L189.9 418.9 L192.8 406.1 L198.8 384.3 L201.3 375.3 L205.3 362.4 L208.7 352.3 L211.9 343.7 L215.9 334.1 L219.3 327.2" stroke="#5D9EC7" stroke-dasharray="6.5 4.5" stroke-width="1.55"/>
<path d="M49.9 299.1 L78.7 300.4 L83.1 301 L87.8 302.1 L95.4 304.7 L99.7 306.9 L102.6 309 L105.6 311.4 L108.8 314.3 L110.7 316.5 L114.9 322.5 L119.1 330.1 L123.4 339.5 L127.8 351.1 L132.1 363.7 L136.9 379.7 L144.1 406.1 L147.1 418.9 L150.5 418.9 L151.3 415.1 L154.9 393.3 L157.5 374.5 L159 361.3 L161.5 332.3 L163.6 315.1 L165.1 306.8 L166.8 300.8 L167.8 298.4 L168.5 298 L168.9 298.2 L170 300.2 L171.9 306.8 L172.9 312.3 L175.5 332.3 L178 361.3 L179.9 377.9 L182.7 397.3 L185.6 415.1 L186.5 418.9 L189.9 418.9 L192.8 406.1 L198.8 384.3 L201.3 375.3 L205.3 362.4 L208.7 352.3 L211.9 343.7 L215.9 334.1 L219.3 327.2" stroke="#FFBF00" stroke-width="1.35"/>
<path d="M49.9 299.1 L78.7 300.4 L83.1 301 L87.8 302.1 L95.4 304.7 L99.7 306.9 L102.6 309 L105.6 311.4 L108.8 314.3 L110.7 316.5 L114.9 322.5 L119.1 330.1 L123.4 339.5 L127.8 351.1 L132.1 363.7 L136.9 379.7 L144.1 406.1 L147.1 418.9 L150.5 418.9 L151.3 415.1 L154.9 393.3 L157.5 374.5 L159 361.3 L161.5 332.3 L163.6 315.1 L165.1 306.8 L166.8 300.8 L167.8 298.4 L168.5 298 L168.9 298.2 L170 300.2 L171.9 306.8 L172.9 312.3 L175.5 332.3 L178 361.3 L179.9 377.9 L182.7 397.3 L185.6 415.1 L186.5 418.9 L189.9 418.9 L192.8 406.1 L198.8 384.3 L201.3 375.3 L205.3 362.4 L208.7 352.3 L211.9 343.7 L215.9 334.1 L219.3 327.2" stroke="#A5609D" stroke-dasharray="6.5 4.5" stroke-width="1.55"/>
</g>
<rect x="45.5" y="258.5" width="178" height="168.5" fill="none" stroke="#000" stroke-width="1.4"/>
<path d="M66.8 427v-3.5M66.8 258.5v3.5M100.7 427v-3.5M100.7 258.5v3.5M134.6 427v-3.5M134.6 258.5v3.5M168.5 427v-3.5M168.5 258.5v3.5M202.4 427v-3.5M202.4 258.5v3.5M49.9 427v-2M49.9 258.5v2M58.4 427v-2M58.4 258.5v2M75.3 427v-2M75.3 258.5v2M83.8 427v-2M83.8 258.5v2M92.2 427v-2M92.2 258.5v2M109.2 427v-2M109.2 258.5v2M117.7 427v-2M117.7 258.5v2M126.1 427v-2M126.1 258.5v2M143.1 427v-2M143.1 258.5v2M151.5 427v-2M151.5 258.5v2M160 427v-2M160 258.5v2M176.9 427v-2M176.9 258.5v2M185.4 427v-2M185.4 258.5v2M193.9 427v-2M193.9 258.5v2M210.8 427v-2M210.8 258.5v2M219.3 427v-2M219.3 258.5v2M45.5 426h3.5M223.5 426h-3.5M45.5 396.5h3.5M223.5 396.5h-3.5M45.5 367h3.5M223.5 367h-3.5M45.5 337.5h3.5M223.5 337.5h-3.5M45.5 308h3.5M223.5 308h-3.5M45.5 278.5h3.5M223.5 278.5h-3.5M45.5 420.1h2M223.5 420.1h-2M45.5 414.2h2M223.5 414.2h-2M45.5 408.3h2M223.5 408.3h-2M45.5 402.4h2M223.5 402.4h-2M45.5 390.6h2M223.5 390.6h-2M45.5 384.7h2M223.5 384.7h-2M45.5 378.8h2M223.5 378.8h-2M45.5 372.9h2M223.5 372.9h-2M45.5 361.1h2M223.5 361.1h-2M45.5 355.2h2M223.5 355.2h-2M45.5 349.3h2M223.5 349.3h-2M45.5 343.4h2M223.5 343.4h-2M45.5 331.6h2M223.5 331.6h-2M45.5 325.7h2M223.5 325.7h-2M45.5 319.8h2M223.5 319.8h-2M45.5 313.9h2M223.5 313.9h-2M45.5 302.1h2M223.5 302.1h-2M45.5 296.2h2M223.5 296.2h-2M45.5 290.3h2M223.5 290.3h-2M45.5 284.4h2M223.5 284.4h-2M45.5 272.6h2M223.5 272.6h-2M45.5 266.7h2M223.5 266.7h-2M45.5 260.8h2M223.5 260.8h-2" stroke="#000" stroke-width="1.1" fill="none"/>
<g font-family="Liberation Sans, sans-serif" font-weight="bold" fill="#000">
<text x="43.5" y="430.4" text-anchor="end" font-size="12.2" textLength="16.7" lengthAdjust="spacingAndGlyphs">0.65</text>
<text x="43.5" y="400.9" text-anchor="end" font-size="12.2" textLength="16.7" lengthAdjust="spacingAndGlyphs">0.70</text>
<text x="43.5" y="371.4" text-anchor="end" font-size="12.2" textLength="16.7" lengthAdjust="spacingAndGlyphs">0.75</text>
<text x="43.5" y="341.9" text-anchor="end" font-size="12.2" textLength="16.7" lengthAdjust="spacingAndGlyphs">0.80</text>
<text x="43.5" y="312.4" text-anchor="end" font-size="12.2" textLength="16.7" lengthAdjust="spacingAndGlyphs">0.85</text>
<text x="43.5" y="282.9" text-anchor="end" font-size="12.2" textLength="16.7" lengthAdjust="spacingAndGlyphs">0.90</text>
<text x="62" y="442.7" font-size="12.2" textLength="9.6" lengthAdjust="spacingAndGlyphs">−4</text>
<text x="95.9" y="442.7" font-size="12.2" textLength="9.6" lengthAdjust="spacingAndGlyphs">−2</text>
<text x="134.6" y="442.7" text-anchor="middle" font-size="12.2">0</text>
<text x="168.5" y="442.7" text-anchor="middle" font-size="12.2">2</text>
<text x="202.4" y="442.7" text-anchor="middle" font-size="12.2">4</text>
</g>
<g>
<path d="M272.5 419 L272.5 276 L300.7 276 L304.9 276.5 L309.8 277.7 L317.8 280.3 L320.8 281.7 L323.7 283.5 L327.1 285.9 L329.2 287.7 L331.6 290.2 L334.1 293.4 L336 296.2 L337.9 299.6 L340.3 304.4 L342.6 309.9 L345.3 317.6 L352.8 340.1 L358.5 356.2 L361.6 367.2 L364 376.9 L367.4 397.3 L368.6 403.8 L369.9 408.6 L370.8 410.6 L371.2 411.1 L371.4 411.1 L371.8 410.5 L372.7 408.5 L375.4 399.6 L376.5 393.9 L377.7 385.2 L379.4 370 L381.8 337.7 L384.7 305.1 L386.6 286.7 L388.1 275.1 L389.4 269.9 L390.4 267.2 L390.9 266.9 L391.5 267.4 L392.6 270.4 L393.8 275.8 L394.7 282.1 L396.8 302 L400 336.7 L402.3 369.1 L404.2 386.2 L405.5 394.7 L406.5 400.1 L409.1 408.2 L410.3 411 L410.6 411.1 L411 410.7 L411.8 408.8 L413.3 403.2 L414.4 397.8 L417.8 377.3 L419.7 369.1 L421.8 361.4 L424.3 353.2 L429.2 339.7 L437.5 314.7 L439.6 309 L441.9 303.7 L441.9 419Z" fill="#5E81B5" fill-opacity="0.2"/>
<path d="M272.5 419 L272.5 276 L300.7 276 L304.9 276.5 L309.8 277.7 L317.8 280.3 L320.8 281.7 L323.7 283.5 L327.1 285.9 L329.2 287.7 L331.6 290.2 L334.1 293.4 L336 296.2 L337.9 299.6 L340.3 304.4 L342.6 309.9 L345.3 317.6 L352.8 340.1 L358.5 356.2 L361.6 367.2 L364 376.9 L367.4 397.3 L368.6 403.8 L369.9 408.6 L370.8 410.6 L371.2 411.1 L371.4 411.1 L371.8 410.5 L372.7 408.5 L375.4 399.6 L376.5 393.9 L377.7 385.2 L379.4 370 L381.8 337.7 L384.7 305.1 L386.6 286.7 L388.1 275.1 L389.4 269.9 L390.4 267.2 L390.9 266.9 L391.5 267.4 L392.6 270.4 L393.8 275.8 L394.7 282.1 L396.8 302 L400 336.7 L402.3 369.1 L404.2 386.2 L405.5 394.7 L406.5 400.1 L409.1 408.2 L410.3 411 L410.6 411.1 L411 410.7 L411.8 408.8 L413.3 403.2 L414.4 397.8 L417.8 377.3 L419.7 369.1 L421.8 361.4 L424.3 353.2 L429.2 339.7 L437.5 314.7 L439.6 309 L441.9 303.7 L441.9 419Z" fill="#E19C24" fill-opacity="0.2"/>
<path d="M272.5 419 L272.5 276 L300.7 276 L304.9 276.5 L309.8 277.7 L317.8 280.3 L320.8 281.7 L323.7 283.5 L327.1 285.9 L329.2 287.7 L331.6 290.2 L334.1 293.4 L336 296.2 L337.9 299.6 L340.3 304.4 L342.6 309.9 L345.3 317.6 L352.8 340.1 L358.5 356.2 L361.6 367.2 L364 376.9 L367.4 397.3 L368.6 403.8 L369.9 408.6 L370.8 410.6 L371.2 411.1 L371.4 411.1 L371.8 410.5 L372.7 408.5 L375.4 399.6 L376.5 393.9 L377.7 385.2 L379.4 370 L381.8 337.7 L384.7 305.1 L386.6 286.7 L388.1 275.1 L389.4 269.9 L390.4 267.2 L390.9 266.9 L391.5 267.4 L392.6 270.4 L393.8 275.8 L394.7 282.1 L396.8 302 L400 336.7 L402.3 369.1 L404.2 386.2 L405.5 394.7 L406.5 400.1 L409.1 408.2 L410.3 411 L410.6 411.1 L411 410.7 L411.8 408.8 L413.3 403.2 L414.4 397.8 L417.8 377.3 L419.7 369.1 L421.8 361.4 L424.3 353.2 L429.2 339.7 L437.5 314.7 L439.6 309 L441.9 303.7 L441.9 419Z" fill="#8FB032" fill-opacity="0.2"/>
<path d="M272.5 419 L272.5 276 L300.7 276 L304.9 276.5 L309.8 277.7 L317.8 280.3 L320.8 281.7 L323.7 283.5 L327.1 285.9 L329.2 287.7 L331.6 290.2 L334.1 293.4 L336 296.2 L337.9 299.6 L340.3 304.4 L342.6 309.9 L345.3 317.6 L352.8 340.1 L358.5 356.2 L361.6 367.2 L364 376.9 L367.4 397.3 L368.6 403.8 L369.9 408.6 L370.8 410.6 L371.2 411.1 L371.4 411.1 L371.8 410.5 L372.7 408.5 L375.4 399.6 L376.5 393.9 L377.7 385.2 L379.4 370 L381.8 337.7 L384.7 305.1 L386.6 286.7 L388.1 275.1 L389.4 269.9 L390.4 267.2 L390.9 266.9 L391.5 267.4 L392.6 270.4 L393.8 275.8 L394.7 282.1 L396.8 302 L400 336.7 L402.3 369.1 L404.2 386.2 L405.5 394.7 L406.5 400.1 L409.1 408.2 L410.3 411 L410.6 411.1 L411 410.7 L411.8 408.8 L413.3 403.2 L414.4 397.8 L417.8 377.3 L419.7 369.1 L421.8 361.4 L424.3 353.2 L429.2 339.7 L437.5 314.7 L439.6 309 L441.9 303.7 L441.9 419Z" fill="#EB6235" fill-opacity="0.2"/>
<path d="M272.5 419 L272.5 276 L313.4 276.6 L317.4 276.8 L320.6 277.4 L323.5 278.3 L326.9 279.7 L332.4 282.4 L334.3 283.5 L336.7 285.4 L339 287.7 L344.5 294.1 L348.3 300.1 L352.1 308 L355.1 316.1 L358 326.4 L361 340.1 L366.9 372.5 L370.3 389.6 L375.4 412.6 L376.5 416.6 L377.3 418.8 L382.2 418.8 L382.4 418.7 L382.6 417.4 L385.8 394 L389.8 355.5 L391.3 343 L392.8 333.8 L395.7 319.9 L397.2 309.9 L399.1 279.7 L399.8 274.1 L400 273.9 L400.2 274.4 L400.6 276.7 L402.9 301.2 L407.2 329.9 L408.9 343.3 L414.6 409.5 L415.6 418.8 L419.9 418.8 L420.1 418.4 L421.4 412.6 L430 378.2 L436.2 355.8 L441.9 336.2 L441.9 419Z" fill="#8778B3" fill-opacity="0.2"/>
<path d="M272.5 419 L272.5 276 L301.1 276 L306.2 276.7 L312.3 278.4 L316.3 279.7 L318.4 280.6 L321.4 282.3 L324.6 284.6 L327.8 287.1 L330.3 289.5 L332.8 292.4 L335.2 295.6 L336.9 298.4 L338.6 301.8 L343 312.5 L348.3 328.6 L352.8 342.9 L357.2 355.7 L359.3 362.6 L362.9 376.5 L366.3 392.1 L368.8 406.3 L370.3 418.8 L373.1 418.8 L373.3 418.2 L375 411.4 L376.5 402.6 L377.5 394.3 L378.6 383.8 L382 340.8 L384.7 310.7 L386.6 292.3 L388.1 280.7 L389.4 275.5 L390.4 272.8 L390.9 272.5 L391.3 272.7 L392.4 275.2 L393.6 280.3 L394.5 285.9 L396.8 307.6 L399.6 337.5 L402.3 373.2 L404 391.6 L405.3 402 L406.3 408.8 L407.8 415.6 L408.7 418.7 L408.9 418.8 L411.4 418.8 L411.6 418.4 L413.1 405.5 L415.4 392.5 L419 375.9 L422.8 361.4 L424.7 355.3 L429.2 342.5 L437.5 316.4 L439.6 310.5 L441.9 304.9 L441.9 419Z" fill="#C56E1A" fill-opacity="0.2"/>
<path d="M272.5 419 L272.5 276 L301.1 276 L306.2 276.7 L312.3 278.4 L316.3 279.7 L318.4 280.6 L321.4 282.3 L324.6 284.6 L327.8 287.1 L330.3 289.5 L332.8 292.4 L335.2 295.6 L336.9 298.4 L338.6 301.8 L343 312.5 L348.3 328.6 L352.8 342.9 L357.2 355.7 L359.3 362.6 L362.9 376.5 L366.3 392.1 L368.8 406.3 L370.3 418.8 L373.1 418.8 L373.3 418.2 L375 411.4 L376.5 402.6 L377.5 394.3 L378.6 383.8 L382 340.8 L384.7 310.7 L386.6 292.3 L388.1 280.7 L389.4 275.5 L390.4 272.8 L390.9 272.5 L391.3 272.7 L392.4 275.2 L393.6 280.3 L394.5 285.9 L396.8 307.6 L399.6 337.5 L402.3 373.2 L404 391.6 L405.3 402 L406.3 408.8 L407.8 415.6 L408.7 418.7 L408.9 418.8 L411.4 418.8 L411.6 418.4 L413.1 405.5 L415.4 392.5 L419 375.9 L422.8 361.4 L424.7 355.3 L429.2 342.5 L437.5 316.4 L439.6 310.5 L441.9 304.9 L441.9 419Z" fill="#5D9EC7" fill-opacity="0.2"/>
<path d="M272.5 419 L272.5 276 L301.1 276 L306.2 276.7 L312.3 278.4 L316.3 279.7 L318.4 280.6 L321.4 282.3 L324.6 284.6 L327.8 287.1 L330.3 289.5 L332.8 292.4 L335.2 295.6 L336.9 298.4 L338.6 301.8 L343 312.5 L348.3 328.6 L352.8 342.9 L357.2 355.7 L359.3 362.6 L362.9 376.5 L366.3 392.1 L368.8 406.3 L370.3 418.8 L373.1 418.8 L373.3 418.2 L375 411.4 L376.5 402.6 L377.5 394.3 L378.6 383.8 L382 340.8 L384.7 310.7 L386.6 292.3 L388.1 280.7 L389.4 275.5 L390.4 272.8 L390.9 272.5 L391.3 272.7 L392.4 275.2 L393.6 280.3 L394.5 285.9 L396.8 307.6 L399.6 337.5 L402.3 373.2 L404 391.6 L405.3 402 L406.3 408.8 L407.8 415.6 L408.7 418.7 L408.9 418.8 L411.4 418.8 L411.6 418.4 L413.1 405.5 L415.4 392.5 L419 375.9 L422.8 361.4 L424.7 355.3 L429.2 342.5 L437.5 316.4 L439.6 310.5 L441.9 304.9 L441.9 419Z" fill="#FFBF00" fill-opacity="0.2"/>
<path d="M272.5 419 L272.5 276 L301.1 276 L306.2 276.7 L312.3 278.4 L316.3 279.7 L318.4 280.6 L321.4 282.3 L324.6 284.6 L327.8 287.1 L330.3 289.5 L332.8 292.4 L335.2 295.6 L336.9 298.4 L338.6 301.8 L343 312.5 L348.3 328.6 L352.8 342.9 L357.2 355.7 L359.3 362.6 L362.9 376.5 L366.3 392.1 L368.8 406.3 L370.3 418.8 L373.1 418.8 L373.3 418.2 L375 411.4 L376.5 402.6 L377.5 394.3 L378.6 383.8 L382 340.8 L384.7 310.7 L386.6 292.3 L388.1 280.7 L389.4 275.5 L390.4 272.8 L390.9 272.5 L391.3 272.7 L392.4 275.2 L393.6 280.3 L394.5 285.9 L396.8 307.6 L399.6 337.5 L402.3 373.2 L404 391.6 L405.3 402 L406.3 408.8 L407.8 415.6 L408.7 418.7 L408.9 418.8 L411.4 418.8 L411.6 418.4 L413.1 405.5 L415.4 392.5 L419 375.9 L422.8 361.4 L424.7 355.3 L429.2 342.5 L437.5 316.4 L439.6 310.5 L441.9 304.9 L441.9 419Z" fill="#A5609D" fill-opacity="0.2"/>
</g><g fill="none" stroke-linejoin="round">
<path d="M272.5 276 L300.7 276 L304.9 276.5 L309.8 277.7 L317.8 280.3 L320.8 281.7 L323.7 283.5 L327.1 285.9 L329.2 287.7 L331.6 290.2 L334.1 293.4 L336 296.2 L337.9 299.6 L340.3 304.4 L342.6 309.9 L345.3 317.6 L352.8 340.1 L358.5 356.2 L361.6 367.2 L364 376.9 L367.4 397.3 L368.6 403.8 L369.9 408.6 L370.8 410.6 L371.2 411.1 L371.4 411.1 L371.8 410.5 L372.7 408.5 L375.4 399.6 L376.5 393.9 L377.7 385.2 L379.4 370 L381.8 337.7 L384.7 305.1 L386.6 286.7 L388.1 275.1 L389.4 269.9 L390.4 267.2 L390.9 266.9 L391.5 267.4 L392.6 270.4 L393.8 275.8 L394.7 282.1 L396.8 302 L400 336.7 L402.3 369.1 L404.2 386.2 L405.5 394.7 L406.5 400.1 L409.1 408.2 L410.3 411 L410.6 411.1 L411 410.7 L411.8 408.8 L413.3 403.2 L414.4 397.8 L417.8 377.3 L419.7 369.1 L421.8 361.4 L424.3 353.2 L429.2 339.7 L437.5 314.7 L439.6 309 L441.9 303.7" stroke="#5E81B5" stroke-dasharray="6.5 4.5" stroke-width="1.55"/>
<path d="M272.5 276 L300.7 276 L304.9 276.5 L309.8 277.7 L317.8 280.3 L320.8 281.7 L323.7 283.5 L327.1 285.9 L329.2 287.7 L331.6 290.2 L334.1 293.4 L336 296.2 L337.9 299.6 L340.3 304.4 L342.6 309.9 L345.3 317.6 L352.8 340.1 L358.5 356.2 L361.6 367.2 L364 376.9 L367.4 397.3 L368.6 403.8 L369.9 408.6 L370.8 410.6 L371.2 411.1 L371.4 411.1 L371.8 410.5 L372.7 408.5 L375.4 399.6 L376.5 393.9 L377.7 385.2 L379.4 370 L381.8 337.7 L384.7 305.1 L386.6 286.7 L388.1 275.1 L389.4 269.9 L390.4 267.2 L390.9 266.9 L391.5 267.4 L392.6 270.4 L393.8 275.8 L394.7 282.1 L396.8 302 L400 336.7 L402.3 369.1 L404.2 386.2 L405.5 394.7 L406.5 400.1 L409.1 408.2 L410.3 411 L410.6 411.1 L411 410.7 L411.8 408.8 L413.3 403.2 L414.4 397.8 L417.8 377.3 L419.7 369.1 L421.8 361.4 L424.3 353.2 L429.2 339.7 L437.5 314.7 L439.6 309 L441.9 303.7" stroke="#E19C24" stroke-width="1.35"/>
<path d="M272.5 276 L300.7 276 L304.9 276.5 L309.8 277.7 L317.8 280.3 L320.8 281.7 L323.7 283.5 L327.1 285.9 L329.2 287.7 L331.6 290.2 L334.1 293.4 L336 296.2 L337.9 299.6 L340.3 304.4 L342.6 309.9 L345.3 317.6 L352.8 340.1 L358.5 356.2 L361.6 367.2 L364 376.9 L367.4 397.3 L368.6 403.8 L369.9 408.6 L370.8 410.6 L371.2 411.1 L371.4 411.1 L371.8 410.5 L372.7 408.5 L375.4 399.6 L376.5 393.9 L377.7 385.2 L379.4 370 L381.8 337.7 L384.7 305.1 L386.6 286.7 L388.1 275.1 L389.4 269.9 L390.4 267.2 L390.9 266.9 L391.5 267.4 L392.6 270.4 L393.8 275.8 L394.7 282.1 L396.8 302 L400 336.7 L402.3 369.1 L404.2 386.2 L405.5 394.7 L406.5 400.1 L409.1 408.2 L410.3 411 L410.6 411.1 L411 410.7 L411.8 408.8 L413.3 403.2 L414.4 397.8 L417.8 377.3 L419.7 369.1 L421.8 361.4 L424.3 353.2 L429.2 339.7 L437.5 314.7 L439.6 309 L441.9 303.7" stroke="#8FB032" stroke-dasharray="6.5 4.5" stroke-width="1.55"/>
<path d="M272.5 276 L300.7 276 L304.9 276.5 L309.8 277.7 L317.8 280.3 L320.8 281.7 L323.7 283.5 L327.1 285.9 L329.2 287.7 L331.6 290.2 L334.1 293.4 L336 296.2 L337.9 299.6 L340.3 304.4 L342.6 309.9 L345.3 317.6 L352.8 340.1 L358.5 356.2 L361.6 367.2 L364 376.9 L367.4 397.3 L368.6 403.8 L369.9 408.6 L370.8 410.6 L371.2 411.1 L371.4 411.1 L371.8 410.5 L372.7 408.5 L375.4 399.6 L376.5 393.9 L377.7 385.2 L379.4 370 L381.8 337.7 L384.7 305.1 L386.6 286.7 L388.1 275.1 L389.4 269.9 L390.4 267.2 L390.9 266.9 L391.5 267.4 L392.6 270.4 L393.8 275.8 L394.7 282.1 L396.8 302 L400 336.7 L402.3 369.1 L404.2 386.2 L405.5 394.7 L406.5 400.1 L409.1 408.2 L410.3 411 L410.6 411.1 L411 410.7 L411.8 408.8 L413.3 403.2 L414.4 397.8 L417.8 377.3 L419.7 369.1 L421.8 361.4 L424.3 353.2 L429.2 339.7 L437.5 314.7 L439.6 309 L441.9 303.7" stroke="#EB6235" stroke-width="1.35"/>
<path d="M272.5 276 L313.4 276.6 L317.4 276.8 L320.6 277.4 L323.5 278.3 L326.9 279.7 L332.4 282.4 L334.3 283.5 L336.7 285.4 L339 287.7 L344.5 294.1 L348.3 300.1 L352.1 308 L355.1 316.1 L358 326.4 L361 340.1 L366.9 372.5 L370.3 389.6 L375.4 412.6 L376.5 416.6 L377.3 418.8 L382.2 418.8 L382.4 418.7 L382.6 417.4 L385.8 394 L389.8 355.5 L391.3 343 L392.8 333.8 L395.7 319.9 L397.2 309.9 L399.1 279.7 L399.8 274.1 L400 273.9 L400.2 274.4 L400.6 276.7 L402.9 301.2 L407.2 329.9 L408.9 343.3 L414.6 409.5 L415.6 418.8 L419.9 418.8 L420.1 418.4 L421.4 412.6 L430 378.2 L436.2 355.8 L441.9 336.2" stroke="#8778B3" stroke-dasharray="6.5 4.5" stroke-width="1.55"/>
<path d="M272.5 276 L301.1 276 L306.2 276.7 L312.3 278.4 L316.3 279.7 L318.4 280.6 L321.4 282.3 L324.6 284.6 L327.8 287.1 L330.3 289.5 L332.8 292.4 L335.2 295.6 L336.9 298.4 L338.6 301.8 L343 312.5 L348.3 328.6 L352.8 342.9 L357.2 355.7 L359.3 362.6 L362.9 376.5 L366.3 392.1 L368.8 406.3 L370.3 418.8 L373.1 418.8 L373.3 418.2 L375 411.4 L376.5 402.6 L377.5 394.3 L378.6 383.8 L382 340.8 L384.7 310.7 L386.6 292.3 L388.1 280.7 L389.4 275.5 L390.4 272.8 L390.9 272.5 L391.3 272.7 L392.4 275.2 L393.6 280.3 L394.5 285.9 L396.8 307.6 L399.6 337.5 L402.3 373.2 L404 391.6 L405.3 402 L406.3 408.8 L407.8 415.6 L408.7 418.7 L408.9 418.8 L411.4 418.8 L411.6 418.4 L413.1 405.5 L415.4 392.5 L419 375.9 L422.8 361.4 L424.7 355.3 L429.2 342.5 L437.5 316.4 L439.6 310.5 L441.9 304.9" stroke="#C56E1A" stroke-width="1.35"/>
<path d="M272.5 276 L301.1 276 L306.2 276.7 L312.3 278.4 L316.3 279.7 L318.4 280.6 L321.4 282.3 L324.6 284.6 L327.8 287.1 L330.3 289.5 L332.8 292.4 L335.2 295.6 L336.9 298.4 L338.6 301.8 L343 312.5 L348.3 328.6 L352.8 342.9 L357.2 355.7 L359.3 362.6 L362.9 376.5 L366.3 392.1 L368.8 406.3 L370.3 418.8 L373.1 418.8 L373.3 418.2 L375 411.4 L376.5 402.6 L377.5 394.3 L378.6 383.8 L382 340.8 L384.7 310.7 L386.6 292.3 L388.1 280.7 L389.4 275.5 L390.4 272.8 L390.9 272.5 L391.3 272.7 L392.4 275.2 L393.6 280.3 L394.5 285.9 L396.8 307.6 L399.6 337.5 L402.3 373.2 L404 391.6 L405.3 402 L406.3 408.8 L407.8 415.6 L408.7 418.7 L408.9 418.8 L411.4 418.8 L411.6 418.4 L413.1 405.5 L415.4 392.5 L419 375.9 L422.8 361.4 L424.7 355.3 L429.2 342.5 L437.5 316.4 L439.6 310.5 L441.9 304.9" stroke="#5D9EC7" stroke-dasharray="6.5 4.5" stroke-width="1.55"/>
<path d="M272.5 276 L301.1 276 L306.2 276.7 L312.3 278.4 L316.3 279.7 L318.4 280.6 L321.4 282.3 L324.6 284.6 L327.8 287.1 L330.3 289.5 L332.8 292.4 L335.2 295.6 L336.9 298.4 L338.6 301.8 L343 312.5 L348.3 328.6 L352.8 342.9 L357.2 355.7 L359.3 362.6 L362.9 376.5 L366.3 392.1 L368.8 406.3 L370.3 418.8 L373.1 418.8 L373.3 418.2 L375 411.4 L376.5 402.6 L377.5 394.3 L378.6 383.8 L382 340.8 L384.7 310.7 L386.6 292.3 L388.1 280.7 L389.4 275.5 L390.4 272.8 L390.9 272.5 L391.3 272.7 L392.4 275.2 L393.6 280.3 L394.5 285.9 L396.8 307.6 L399.6 337.5 L402.3 373.2 L404 391.6 L405.3 402 L406.3 408.8 L407.8 415.6 L408.7 418.7 L408.9 418.8 L411.4 418.8 L411.6 418.4 L413.1 405.5 L415.4 392.5 L419 375.9 L422.8 361.4 L424.7 355.3 L429.2 342.5 L437.5 316.4 L439.6 310.5 L441.9 304.9" stroke="#FFBF00" stroke-width="1.35"/>
<path d="M272.5 276 L301.1 276 L306.2 276.7 L312.3 278.4 L316.3 279.7 L318.4 280.6 L321.4 282.3 L324.6 284.6 L327.8 287.1 L330.3 289.5 L332.8 292.4 L335.2 295.6 L336.9 298.4 L338.6 301.8 L343 312.5 L348.3 328.6 L352.8 342.9 L357.2 355.7 L359.3 362.6 L362.9 376.5 L366.3 392.1 L368.8 406.3 L370.3 418.8 L373.1 418.8 L373.3 418.2 L375 411.4 L376.5 402.6 L377.5 394.3 L378.6 383.8 L382 340.8 L384.7 310.7 L386.6 292.3 L388.1 280.7 L389.4 275.5 L390.4 272.8 L390.9 272.5 L391.3 272.7 L392.4 275.2 L393.6 280.3 L394.5 285.9 L396.8 307.6 L399.6 337.5 L402.3 373.2 L404 391.6 L405.3 402 L406.3 408.8 L407.8 415.6 L408.7 418.7 L408.9 418.8 L411.4 418.8 L411.6 418.4 L413.1 405.5 L415.4 392.5 L419 375.9 L422.8 361.4 L424.7 355.3 L429.2 342.5 L437.5 316.4 L439.6 310.5 L441.9 304.9" stroke="#A5609D" stroke-dasharray="6.5 4.5" stroke-width="1.55"/>
</g>
<rect x="268.5" y="258.5" width="177.5" height="168.5" fill="none" stroke="#000" stroke-width="1.4"/>
<path d="M289.4 427v-3.5M289.4 258.5v3.5M323.3 427v-3.5M323.3 258.5v3.5M357.2 427v-3.5M357.2 258.5v3.5M391.1 427v-3.5M391.1 258.5v3.5M425 427v-3.5M425 258.5v3.5M272.5 427v-2M272.5 258.5v2M281 427v-2M281 258.5v2M297.9 427v-2M297.9 258.5v2M306.4 427v-2M306.4 258.5v2M314.8 427v-2M314.8 258.5v2M331.8 427v-2M331.8 258.5v2M340.3 427v-2M340.3 258.5v2M348.7 427v-2M348.7 258.5v2M365.7 427v-2M365.7 258.5v2M374.1 427v-2M374.1 258.5v2M382.6 427v-2M382.6 258.5v2M399.6 427v-2M399.6 258.5v2M408 427v-2M408 258.5v2M416.5 427v-2M416.5 258.5v2M433.4 427v-2M433.4 258.5v2M441.9 427v-2M441.9 258.5v2M268.5 427.2h3.5M446 427.2h-3.5M268.5 392.2h3.5M446 392.2h-3.5M268.5 357.2h3.5M446 357.2h-3.5M268.5 322.2h3.5M446 322.2h-3.5M268.5 287.2h3.5M446 287.2h-3.5M268.5 420.2h2M446 420.2h-2M268.5 413.2h2M446 413.2h-2M268.5 406.2h2M446 406.2h-2M268.5 399.2h2M446 399.2h-2M268.5 385.2h2M446 385.2h-2M268.5 378.2h2M446 378.2h-2M268.5 371.2h2M446 371.2h-2M268.5 364.2h2M446 364.2h-2M268.5 350.2h2M446 350.2h-2M268.5 343.2h2M446 343.2h-2M268.5 336.2h2M446 336.2h-2M268.5 329.2h2M446 329.2h-2M268.5 315.2h2M446 315.2h-2M268.5 308.2h2M446 308.2h-2M268.5 301.2h2M446 301.2h-2M268.5 294.2h2M446 294.2h-2M268.5 280.2h2M446 280.2h-2M268.5 273.2h2M446 273.2h-2M268.5 266.2h2M446 266.2h-2" stroke="#000" stroke-width="1.1" fill="none"/>
<g font-family="Liberation Sans, sans-serif" font-weight="bold" fill="#000">
<text x="266.3" y="431.6" text-anchor="end" font-size="12.2" textLength="16.7" lengthAdjust="spacingAndGlyphs">0.65</text>
<text x="266.3" y="396.6" text-anchor="end" font-size="12.2" textLength="16.7" lengthAdjust="spacingAndGlyphs">0.70</text>
<text x="266.3" y="361.6" text-anchor="end" font-size="12.2" textLength="16.7" lengthAdjust="spacingAndGlyphs">0.75</text>
<text x="266.3" y="326.6" text-anchor="end" font-size="12.2" textLength="16.7" lengthAdjust="spacingAndGlyphs">0.80</text>
<text x="266.3" y="291.6" text-anchor="end" font-size="12.2" textLength="16.7" lengthAdjust="spacingAndGlyphs">0.85</text>
<text x="284.6" y="442.7" font-size="12.2" textLength="9.6" lengthAdjust="spacingAndGlyphs">−4</text>
<text x="318.5" y="442.7" font-size="12.2" textLength="9.6" lengthAdjust="spacingAndGlyphs">−2</text>
<text x="357.2" y="442.7" text-anchor="middle" font-size="12.2">0</text>
<text x="391.1" y="442.7" text-anchor="middle" font-size="12.2">2</text>
<text x="425" y="442.7" text-anchor="middle" font-size="12.2">4</text>
</g>
<g>
<path d="M494.7 418.8 L494.7 267.4 L516.3 267.5 L535.1 267.8 L554.6 268.4 L566.3 269.1 L569 269.7 L572.2 270.8 L578.3 273.3 L582.2 275.1 L585.3 276.9 L588.5 279 L591.7 281.5 L593.8 283.5 L596.3 286.5 L599.1 290.4 L602.7 296 L605 300.2 L607.6 305.4 L610.1 311.4 L613.9 322.1 L616.2 330.3 L620.3 348.1 L627.9 390.6 L630.6 404.2 L632.1 410.1 L633.6 414.7 L634.9 417.2 L635.5 418 L636.1 418.4 L636.6 418.4 L637 417.7 L638.1 412 L641.2 381.2 L646.1 343 L649.5 312.6 L652 293.4 L653.7 278.3 L655.4 270.3 L656.3 267.9 L656.7 267.4 L657.1 267.6 L657.5 268.3 L658.2 270.2 L659.4 275.7 L660.1 279.6 L661.8 294.8 L664.1 312.3 L664.1 418.8Z" fill="#5E81B5" fill-opacity="0.2"/>
<path d="M494.7 418.8 L494.7 267.4 L530.9 267.9 L550 268.6 L557.8 269.1 L560.6 269.8 L563.9 271 L569.9 273.4 L573.9 275.4 L577.3 277.3 L580.5 279.6 L583.4 281.9 L585.5 284.1 L588.1 287.3 L590.8 291.2 L594.2 296.6 L596.3 300.4 L598.7 305.2 L601.2 311.1 L605 321.8 L607.4 330 L611.4 347.7 L613.7 360 L619.2 391.3 L622 404.8 L623.4 410.6 L624.9 415 L626.4 417.7 L627 418.3 L627.7 418.5 L628.1 417.9 L628.5 416.4 L629.4 411 L632.5 380.1 L637 345.5 L640.6 313.3 L643.1 294.1 L644.8 278.9 L645.3 276.3 L646.7 269.8 L647.6 267.7 L648 267.4 L648.2 267.5 L648.9 268.6 L649.5 270.6 L651.2 278.9 L652.9 294.1 L655.4 313.3 L658.8 343.7 L664.1 386 L664.1 418.8Z" fill="#E19C24" fill-opacity="0.2"/>
<path d="M494.7 418.8 L494.7 267.4 L527.9 268.1 L546.8 268.9 L549.5 269.2 L552.7 270.1 L556.5 271.5 L561.8 273.7 L566.1 275.9 L569.7 278.1 L573.3 280.8 L575.4 282.7 L577.7 285.3 L580.2 288.6 L583.2 293 L586 297.5 L588.1 301.5 L592.7 312 L596.6 322.9 L598.9 331.4 L602.7 348.3 L610.3 390.9 L613.3 405.3 L614.8 411 L616.2 415.3 L617.5 417.6 L618.2 418.2 L618.8 418.5 L619.2 418.1 L619.6 416.8 L620.7 410 L623.7 380.9 L628.3 344.4 L631.7 314.1 L634.2 294.8 L636.1 278 L638.1 269.4 L638.9 267.6 L639.1 267.4 L639.5 267.6 L640.2 268.9 L640.8 271.1 L642.1 277 L642.5 279.9 L644 293.4 L646.7 314.4 L650.1 344.8 L654.6 379.4 L657.3 406.7 L658.4 414.8 L659.2 418.2 L659.7 418.4 L660.5 418 L661.3 416.9 L662.2 415.2 L664.1 409.4 L664.1 418.8Z" fill="#8FB032" fill-opacity="0.2"/>
<path d="M494.7 418.8 L494.7 267.5 L511.6 267.8 L527.7 268.4 L538.3 268.9 L541.7 269.5 L545.5 270.7 L551.9 273.2 L555.3 274.8 L558.6 276.7 L562.2 279.1 L565.6 281.8 L567.8 283.9 L570.1 286.8 L572.8 290.6 L576.2 295.9 L579.8 302.6 L584.5 313.4 L588.1 324 L590.2 331.9 L594 349 L601.4 390.4 L604.2 404.1 L605.7 410 L606.9 414 L608.2 416.8 L609.5 418.3 L610.1 418.4 L610.5 417.8 L611.6 412.3 L615 379.8 L619.4 345.1 L622.8 314.8 L625.6 293.7 L627 280.3 L627.5 277.2 L628.5 272.2 L629.4 269 L630 267.7 L630.4 267.4 L630.6 267.5 L631.5 269.3 L633 275.5 L633.6 279.3 L635.3 294.4 L637.8 313.7 L641.4 345.8 L645.9 380.5 L648.9 409.6 L649.5 414.3 L650.1 417.4 L650.5 418.4 L651 418.4 L651.8 417.9 L652.7 416.7 L654.1 413.2 L655.6 408.1 L658.8 393.3 L664.1 363.3 L664.1 418.8Z" fill="#EB6235" fill-opacity="0.2"/>
<path d="M494.7 418.8 L494.7 267.7 L512.5 268.1 L529.2 268.9 L531.5 269.2 L534.3 269.9 L537.9 271.1 L544.5 273.9 L548.1 275.7 L551.4 277.7 L554.8 280.2 L557.6 282.5 L560.1 285.3 L562.7 288.7 L568 296.9 L571.8 304.2 L576 314.3 L579.6 325.2 L581.5 332.4 L585.3 349.6 L592.7 391.1 L595.5 404.6 L597 410.4 L598.5 414.9 L599.7 417.3 L600.4 418.1 L601 418.4 L601.4 418.4 L601.8 417.4 L602.9 411.4 L606.1 380.5 L610.5 345.8 L614.1 313.7 L616.7 294.4 L618.4 279.3 L619.8 271.6 L620.5 269.3 L621.1 267.8 L621.5 267.4 L621.8 267.5 L622.6 269 L623.7 273.1 L624.7 278.6 L626.4 293.7 L628.9 313 L632.5 345.1 L637 379.8 L640.2 410.7 L641 416.2 L641.7 418.3 L642.1 418.4 L642.9 418 L643.6 417.2 L644.4 415.6 L645.9 411.4 L647.4 405.9 L650.3 391.5 L658 349 L662 331 L664.1 323.3 L664.1 418.8Z" fill="#8778B3" fill-opacity="0.2"/>
<path d="M494.7 418.8 L494.7 267.9 L521 268.9 L524.8 269.6 L529.4 271.3 L534.9 273.5 L538.5 275.3 L542.3 277.5 L546.2 280.3 L548.7 282.4 L551 284.9 L553.6 288.2 L556.3 292.3 L560.6 299.4 L564.4 307.3 L568 316.4 L571.1 326.3 L573 333.9 L576.6 350.3 L583.8 390.6 L586.6 404.2 L588.1 410.1 L589.6 414.7 L591 417.5 L591.7 418.2 L592.3 418.4 L592.7 418.2 L593.2 417 L594.2 410.3 L597.2 381.2 L601.8 344.8 L605.2 314.4 L608 293.4 L609.5 279.9 L609.9 277 L611 272 L612.2 267.9 L612.9 267.4 L613.3 267.8 L613.7 268.8 L614.8 272.7 L615.8 278 L617.7 294.8 L620.3 314.1 L623.7 344.4 L628.3 380.9 L631.3 410 L632.1 415.8 L632.5 417.6 L633 418.4 L633.6 418.3 L634.2 417.8 L635.7 415.3 L637.2 411 L638.9 404.4 L641.7 390.9 L648.9 350.5 L653.9 328 L656.1 320.9 L658.4 314.2 L661.1 307.4 L664.1 301.1 L664.1 418.8Z" fill="#C56E1A" fill-opacity="0.2"/>
<path d="M494.7 418.8 L494.7 268.1 L511.4 268.8 L514 269.2 L516.5 269.8 L519.5 270.8 L525.4 273.2 L528.8 274.8 L532 276.6 L535.1 278.6 L538.3 281 L540.4 283 L542.6 285.4 L544.9 288.4 L550.2 296.6 L553.8 303.4 L557.4 311.7 L560.1 319.2 L562.7 327.5 L566.3 342.8 L568 350.9 L575 390.2 L577.7 403.9 L579.2 409.8 L580.7 414.4 L582.2 417.4 L582.8 418.1 L583.4 418.4 L583.8 418.3 L584.3 417.3 L585.3 411 L588.5 380.1 L593 345.5 L596.6 313.3 L599.1 294.1 L600.8 278.9 L602.3 271.5 L602.9 269.2 L603.5 267.7 L604 267.4 L604.2 267.5 L605 269.2 L606.3 274.3 L607.1 278.9 L608.8 294.1 L611.4 313.3 L615 345.5 L619.4 380.1 L622.6 411 L623.4 416.4 L623.9 417.9 L624.3 418.5 L624.9 418.3 L625.6 417.7 L627 415 L628.5 410.6 L630 404.8 L632.8 391.3 L640.4 348.8 L644.2 331.7 L646.3 323.9 L649.9 313.3 L654.4 303 L658 296.2 L661.3 290.9 L664.1 287 L664.1 418.8Z" fill="#5D9EC7" fill-opacity="0.2"/>
<path d="M494.7 418.8 L494.7 268.5 L503.4 268.9 L507.6 269.8 L511.2 271 L517.8 273.7 L521.2 275.4 L524.6 277.4 L530.1 281.5 L533.5 285 L538.1 291.4 L543 299.4 L545.9 305.5 L549.1 313.1 L551.7 320.2 L554 328 L559.1 350.5 L566.3 390.9 L569 404.4 L570.5 410.3 L572 414.8 L573.5 417.6 L574.1 418.2 L574.7 418.5 L575.2 418.1 L575.6 416.8 L576.6 410 L579.6 380.9 L584.3 344.4 L587.7 314.1 L590.2 294.8 L591.9 279.6 L593.4 271.8 L594 269.4 L594.6 267.8 L595.1 267.4 L595.3 267.4 L595.7 267.9 L596.1 268.9 L597.2 272.9 L598.2 278.3 L599.9 293.4 L602.7 314.4 L606.1 344.8 L610.7 381.2 L613.7 410.3 L614.6 416 L615 417.7 L615.4 418.4 L616 418.3 L616.7 417.8 L617.9 415.7 L619.4 411.6 L620.9 406.1 L623.9 391.8 L629.6 359.3 L632.1 346.1 L636.1 328.6 L639.5 317.6 L641.9 311.4 L645 304 L647.8 298.6 L650.5 294 L654.4 288.2 L657.5 284.2 L660.1 281.6 L664.1 278.5 L664.1 418.8Z" fill="#FFBF00" fill-opacity="0.2"/>
<path d="M494.7 418.8 L494.7 268.9 L497.2 269.4 L500.2 270.2 L509.5 274 L515.5 277.2 L521 281.3 L524.3 284.6 L527.9 289.4 L532.6 296.6 L536 303.1 L538.7 309.2 L541.1 315.1 L543.2 321.3 L545.3 328.5 L548.7 343 L550.4 351.1 L557.4 390.4 L560.3 405 L561.8 410.7 L563.3 415.1 L564.8 417.7 L565.4 418.3 L566.1 418.4 L566.5 417.8 L566.9 416.2 L567.8 410.7 L570.9 379.8 L575.4 345.1 L579 313 L581.5 293.7 L583.2 278.6 L584.7 271.3 L585.3 269 L586 267.7 L586.4 267.4 L586.6 267.5 L587.4 269.3 L588.9 275.5 L589.6 279.3 L591.3 294.4 L593.8 313.7 L597.4 345.8 L601.8 380.5 L604.8 409.6 L605.9 416.6 L606.3 418 L606.7 418.5 L607.4 418.2 L608 417.6 L609.3 415.4 L610.5 411.9 L612 406.4 L615 392.2 L620.9 358.6 L623.7 344.5 L627.7 327.4 L630.2 319.1 L632.8 312.1 L636.1 304.2 L639.3 298 L643.8 290.8 L647.6 285.6 L650.8 282.1 L654.6 279.1 L659.2 276 L664.1 273.6 L664.1 418.8Z" fill="#A5609D" fill-opacity="0.2"/>
</g><g fill="none" stroke-linejoin="round">
<path d="M494.7 267.4 L516.3 267.5 L535.1 267.8 L554.6 268.4 L566.3 269.1 L569 269.7 L572.2 270.8 L578.3 273.3 L582.2 275.1 L585.3 276.9 L588.5 279 L591.7 281.5 L593.8 283.5 L596.3 286.5 L599.1 290.4 L602.7 296 L605 300.2 L607.6 305.4 L610.1 311.4 L613.9 322.1 L616.2 330.3 L620.3 348.1 L627.9 390.6 L630.6 404.2 L632.1 410.1 L633.6 414.7 L634.9 417.2 L635.5 418 L636.1 418.4 L636.6 418.4 L637 417.7 L638.1 412 L641.2 381.2 L646.1 343 L649.5 312.6 L652 293.4 L653.7 278.3 L655.4 270.3 L656.3 267.9 L656.7 267.4 L657.1 267.6 L657.5 268.3 L658.2 270.2 L659.4 275.7 L660.1 279.6 L661.8 294.8 L664.1 312.3" stroke="#5E81B5" stroke-dasharray="6.5 4.5" stroke-width="1.55"/>
<path d="M494.7 267.4 L530.9 267.9 L550 268.6 L557.8 269.1 L560.6 269.8 L563.9 271 L569.9 273.4 L573.9 275.4 L577.3 277.3 L580.5 279.6 L583.4 281.9 L585.5 284.1 L588.1 287.3 L590.8 291.2 L594.2 296.6 L596.3 300.4 L598.7 305.2 L601.2 311.1 L605 321.8 L607.4 330 L611.4 347.7 L613.7 360 L619.2 391.3 L622 404.8 L623.4 410.6 L624.9 415 L626.4 417.7 L627 418.3 L627.7 418.5 L628.1 417.9 L628.5 416.4 L629.4 411 L632.5 380.1 L637 345.5 L640.6 313.3 L643.1 294.1 L644.8 278.9 L645.3 276.3 L646.7 269.8 L647.6 267.7 L648 267.4 L648.2 267.5 L648.9 268.6 L649.5 270.6 L651.2 278.9 L652.9 294.1 L655.4 313.3 L658.8 343.7 L664.1 386" stroke="#E19C24" stroke-width="1.35"/>
<path d="M494.7 267.4 L527.9 268.1 L546.8 268.9 L549.5 269.2 L552.7 270.1 L556.5 271.5 L561.8 273.7 L566.1 275.9 L569.7 278.1 L573.3 280.8 L575.4 282.7 L577.7 285.3 L580.2 288.6 L583.2 293 L586 297.5 L588.1 301.5 L592.7 312 L596.6 322.9 L598.9 331.4 L602.7 348.3 L610.3 390.9 L613.3 405.3 L614.8 411 L616.2 415.3 L617.5 417.6 L618.2 418.2 L618.8 418.5 L619.2 418.1 L619.6 416.8 L620.7 410 L623.7 380.9 L628.3 344.4 L631.7 314.1 L634.2 294.8 L636.1 278 L638.1 269.4 L638.9 267.6 L639.1 267.4 L639.5 267.6 L640.2 268.9 L640.8 271.1 L642.1 277 L642.5 279.9 L644 293.4 L646.7 314.4 L650.1 344.8 L654.6 379.4 L657.3 406.7 L658.4 414.8 L659.2 418.2 L659.7 418.4 L660.5 418 L661.3 416.9 L662.2 415.2 L664.1 409.4" stroke="#8FB032" stroke-dasharray="6.5 4.5" stroke-width="1.55"/>
<path d="M494.7 267.5 L511.6 267.8 L527.7 268.4 L538.3 268.9 L541.7 269.5 L545.5 270.7 L551.9 273.2 L555.3 274.8 L558.6 276.7 L562.2 279.1 L565.6 281.8 L567.8 283.9 L570.1 286.8 L572.8 290.6 L576.2 295.9 L579.8 302.6 L584.5 313.4 L588.1 324 L590.2 331.9 L594 349 L601.4 390.4 L604.2 404.1 L605.7 410 L606.9 414 L608.2 416.8 L609.5 418.3 L610.1 418.4 L610.5 417.8 L611.6 412.3 L615 379.8 L619.4 345.1 L622.8 314.8 L625.6 293.7 L627 280.3 L627.5 277.2 L628.5 272.2 L629.4 269 L630 267.7 L630.4 267.4 L630.6 267.5 L631.5 269.3 L633 275.5 L633.6 279.3 L635.3 294.4 L637.8 313.7 L641.4 345.8 L645.9 380.5 L648.9 409.6 L649.5 414.3 L650.1 417.4 L650.5 418.4 L651 418.4 L651.8 417.9 L652.7 416.7 L654.1 413.2 L655.6 408.1 L658.8 393.3 L664.1 363.3" stroke="#EB6235" stroke-width="1.35"/>
<path d="M494.7 267.7 L512.5 268.1 L529.2 268.9 L531.5 269.2 L534.3 269.9 L537.9 271.1 L544.5 273.9 L548.1 275.7 L551.4 277.7 L554.8 280.2 L557.6 282.5 L560.1 285.3 L562.7 288.7 L568 296.9 L571.8 304.2 L576 314.3 L579.6 325.2 L581.5 332.4 L585.3 349.6 L592.7 391.1 L595.5 404.6 L597 410.4 L598.5 414.9 L599.7 417.3 L600.4 418.1 L601 418.4 L601.4 418.4 L601.8 417.4 L602.9 411.4 L606.1 380.5 L610.5 345.8 L614.1 313.7 L616.7 294.4 L618.4 279.3 L619.8 271.6 L620.5 269.3 L621.1 267.8 L621.5 267.4 L621.8 267.5 L622.6 269 L623.7 273.1 L624.7 278.6 L626.4 293.7 L628.9 313 L632.5 345.1 L637 379.8 L640.2 410.7 L641 416.2 L641.7 418.3 L642.1 418.4 L642.9 418 L643.6 417.2 L644.4 415.6 L645.9 411.4 L647.4 405.9 L650.3 391.5 L658 349 L662 331 L664.1 323.3" stroke="#8778B3" stroke-dasharray="6.5 4.5" stroke-width="1.55"/>
<path d="M494.7 267.9 L521 268.9 L524.8 269.6 L529.4 271.3 L534.9 273.5 L538.5 275.3 L542.3 277.5 L546.2 280.3 L548.7 282.4 L551 284.9 L553.6 288.2 L556.3 292.3 L560.6 299.4 L564.4 307.3 L568 316.4 L571.1 326.3 L573 333.9 L576.6 350.3 L583.8 390.6 L586.6 404.2 L588.1 410.1 L589.6 414.7 L591 417.5 L591.7 418.2 L592.3 418.4 L592.7 418.2 L593.2 417 L594.2 410.3 L597.2 381.2 L601.8 344.8 L605.2 314.4 L608 293.4 L609.5 279.9 L609.9 277 L611 272 L612.2 267.9 L612.9 267.4 L613.3 267.8 L613.7 268.8 L614.8 272.7 L615.8 278 L617.7 294.8 L620.3 314.1 L623.7 344.4 L628.3 380.9 L631.3 410 L632.1 415.8 L632.5 417.6 L633 418.4 L633.6 418.3 L634.2 417.8 L635.7 415.3 L637.2 411 L638.9 404.4 L641.7 390.9 L648.9 350.5 L653.9 328 L656.1 320.9 L658.4 314.2 L661.1 307.4 L664.1 301.1" stroke="#C56E1A" stroke-width="1.35"/>
<path d="M494.7 268.1 L511.4 268.8 L514 269.2 L516.5 269.8 L519.5 270.8 L525.4 273.2 L528.8 274.8 L532 276.6 L535.1 278.6 L538.3 281 L540.4 283 L542.6 285.4 L544.9 288.4 L550.2 296.6 L553.8 303.4 L557.4 311.7 L560.1 319.2 L562.7 327.5 L566.3 342.8 L568 350.9 L575 390.2 L577.7 403.9 L579.2 409.8 L580.7 414.4 L582.2 417.4 L582.8 418.1 L583.4 418.4 L583.8 418.3 L584.3 417.3 L585.3 411 L588.5 380.1 L593 345.5 L596.6 313.3 L599.1 294.1 L600.8 278.9 L602.3 271.5 L602.9 269.2 L603.5 267.7 L604 267.4 L604.2 267.5 L605 269.2 L606.3 274.3 L607.1 278.9 L608.8 294.1 L611.4 313.3 L615 345.5 L619.4 380.1 L622.6 411 L623.4 416.4 L623.9 417.9 L624.3 418.5 L624.9 418.3 L625.6 417.7 L627 415 L628.5 410.6 L630 404.8 L632.8 391.3 L640.4 348.8 L644.2 331.7 L646.3 323.9 L649.9 313.3 L654.4 303 L658 296.2 L661.3 290.9 L664.1 287" stroke="#5D9EC7" stroke-dasharray="6.5 4.5" stroke-width="1.55"/>
<path d="M494.7 268.5 L503.4 268.9 L507.6 269.8 L511.2 271 L517.8 273.7 L521.2 275.4 L524.6 277.4 L530.1 281.5 L533.5 285 L538.1 291.4 L543 299.4 L545.9 305.5 L549.1 313.1 L551.7 320.2 L554 328 L559.1 350.5 L566.3 390.9 L569 404.4 L570.5 410.3 L572 414.8 L573.5 417.6 L574.1 418.2 L574.7 418.5 L575.2 418.1 L575.6 416.8 L576.6 410 L579.6 380.9 L584.3 344.4 L587.7 314.1 L590.2 294.8 L591.9 279.6 L593.4 271.8 L594 269.4 L594.6 267.8 L595.1 267.4 L595.3 267.4 L595.7 267.9 L596.1 268.9 L597.2 272.9 L598.2 278.3 L599.9 293.4 L602.7 314.4 L606.1 344.8 L610.7 381.2 L613.7 410.3 L614.6 416 L615 417.7 L615.4 418.4 L616 418.3 L616.7 417.8 L617.9 415.7 L619.4 411.6 L620.9 406.1 L623.9 391.8 L629.6 359.3 L632.1 346.1 L636.1 328.6 L639.5 317.6 L641.9 311.4 L645 304 L647.8 298.6 L650.5 294 L654.4 288.2 L657.5 284.2 L660.1 281.6 L664.1 278.5" stroke="#FFBF00" stroke-width="1.35"/>
<path d="M494.7 268.9 L497.2 269.4 L500.2 270.2 L509.5 274 L515.5 277.2 L521 281.3 L524.3 284.6 L527.9 289.4 L532.6 296.6 L536 303.1 L538.7 309.2 L541.1 315.1 L543.2 321.3 L545.3 328.5 L548.7 343 L550.4 351.1 L557.4 390.4 L560.3 405 L561.8 410.7 L563.3 415.1 L564.8 417.7 L565.4 418.3 L566.1 418.4 L566.5 417.8 L566.9 416.2 L567.8 410.7 L570.9 379.8 L575.4 345.1 L579 313 L581.5 293.7 L583.2 278.6 L584.7 271.3 L585.3 269 L586 267.7 L586.4 267.4 L586.6 267.5 L587.4 269.3 L588.9 275.5 L589.6 279.3 L591.3 294.4 L593.8 313.7 L597.4 345.8 L601.8 380.5 L604.8 409.6 L605.9 416.6 L606.3 418 L606.7 418.5 L607.4 418.2 L608 417.6 L609.3 415.4 L610.5 411.9 L612 406.4 L615 392.2 L620.9 358.6 L623.7 344.5 L627.7 327.4 L630.2 319.1 L632.8 312.1 L636.1 304.2 L639.3 298 L643.8 290.8 L647.6 285.6 L650.8 282.1 L654.6 279.1 L659.2 276 L664.1 273.6" stroke="#A5609D" stroke-dasharray="6.5 4.5" stroke-width="1.55"/>
</g>
<rect x="491" y="258.7" width="177.4" height="168.6" fill="none" stroke="#000" stroke-width="1.4"/>
<path d="M511.6 427.3v-3.5M511.6 258.7v3.5M545.5 427.3v-3.5M545.5 258.7v3.5M579.4 427.3v-3.5M579.4 258.7v3.5M613.3 427.3v-3.5M613.3 258.7v3.5M647.2 427.3v-3.5M647.2 258.7v3.5M494.7 427.3v-2M494.7 258.7v2M503.2 427.3v-2M503.2 258.7v2M520.1 427.3v-2M520.1 258.7v2M528.6 427.3v-2M528.6 258.7v2M537 427.3v-2M537 258.7v2M554 427.3v-2M554 258.7v2M562.5 427.3v-2M562.5 258.7v2M570.9 427.3v-2M570.9 258.7v2M587.9 427.3v-2M587.9 258.7v2M596.3 427.3v-2M596.3 258.7v2M604.8 427.3v-2M604.8 258.7v2M621.8 427.3v-2M621.8 258.7v2M630.2 427.3v-2M630.2 258.7v2M638.7 427.3v-2M638.7 258.7v2M655.6 427.3v-2M655.6 258.7v2M664.1 427.3v-2M664.1 258.7v2M491 412.2h3.5M668.4 412.2h-3.5M491 388h3.5M668.4 388h-3.5M491 363.9h3.5M668.4 363.9h-3.5M491 339.8h3.5M668.4 339.8h-3.5M491 315.7h3.5M668.4 315.7h-3.5M491 291.5h3.5M668.4 291.5h-3.5M491 267.4h3.5M668.4 267.4h-3.5M491 421.8h2M668.4 421.8h-2M491 417h2M668.4 417h-2M491 407.4h2M668.4 407.4h-2M491 402.5h2M668.4 402.5h-2M491 397.7h2M668.4 397.7h-2M491 392.9h2M668.4 392.9h-2M491 383.2h2M668.4 383.2h-2M491 378.4h2M668.4 378.4h-2M491 373.6h2M668.4 373.6h-2M491 368.7h2M668.4 368.7h-2M491 359.1h2M668.4 359.1h-2M491 354.3h2M668.4 354.3h-2M491 349.4h2M668.4 349.4h-2M491 344.6h2M668.4 344.6h-2M491 335h2M668.4 335h-2M491 330.1h2M668.4 330.1h-2M491 325.3h2M668.4 325.3h-2M491 320.5h2M668.4 320.5h-2M491 310.8h2M668.4 310.8h-2M491 306h2M668.4 306h-2M491 301.2h2M668.4 301.2h-2M491 296.4h2M668.4 296.4h-2M491 286.7h2M668.4 286.7h-2M491 281.9h2M668.4 281.9h-2M491 277.1h2M668.4 277.1h-2M491 272.2h2M668.4 272.2h-2" stroke="#000" stroke-width="1.1" fill="none"/>
<g font-family="Liberation Sans, sans-serif" font-weight="bold" fill="#000">
<text x="488.8" y="416.6" text-anchor="end" font-size="12.2" textLength="16.7" lengthAdjust="spacingAndGlyphs">0.45</text>
<text x="488.8" y="392.4" text-anchor="end" font-size="12.2" textLength="16.7" lengthAdjust="spacingAndGlyphs">0.50</text>
<text x="488.8" y="368.3" text-anchor="end" font-size="12.2" textLength="16.7" lengthAdjust="spacingAndGlyphs">0.55</text>
<text x="488.8" y="344.2" text-anchor="end" font-size="12.2" textLength="16.7" lengthAdjust="spacingAndGlyphs">0.60</text>
<text x="488.8" y="320.1" text-anchor="end" font-size="12.2" textLength="16.7" lengthAdjust="spacingAndGlyphs">0.65</text>
<text x="488.8" y="295.9" text-anchor="end" font-size="12.2" textLength="16.7" lengthAdjust="spacingAndGlyphs">0.70</text>
<text x="488.8" y="271.8" text-anchor="end" font-size="12.2" textLength="16.7" lengthAdjust="spacingAndGlyphs">0.75</text>
<text x="506.8" y="442.7" font-size="12.2" textLength="9.6" lengthAdjust="spacingAndGlyphs">−4</text>
<text x="540.7" y="442.7" font-size="12.2" textLength="9.6" lengthAdjust="spacingAndGlyphs">−2</text>
<text x="579.4" y="442.7" text-anchor="middle" font-size="12.2">0</text>
<text x="613.3" y="442.7" text-anchor="middle" font-size="12.2">2</text>
<text x="647.2" y="442.7" text-anchor="middle" font-size="12.2">4</text>
</g>
<text transform="translate(21 355.7) rotate(-90)" textLength="25.4" lengthAdjust="spacingAndGlyphs" font-family="Liberation Sans, sans-serif" font-weight="bold" font-size="7.4"><tspan font-style="italic">u</tspan><tspan font-size="5.2" dy="1.4">6</tspan><tspan dy="-1.4">(x,t)</tspan></text>
<text transform="translate(243.6 359.8) rotate(-90)" textLength="25.4" lengthAdjust="spacingAndGlyphs" font-family="Liberation Sans, sans-serif" font-weight="bold" font-size="7.4"><tspan font-style="italic">u</tspan><tspan font-size="5.2" dy="1.4">6</tspan><tspan dy="-1.4">(x,t)</tspan></text>
<text transform="translate(466.9 355.7) rotate(-90)" textLength="25.4" lengthAdjust="spacingAndGlyphs" font-family="Liberation Sans, sans-serif" font-weight="bold" font-size="7.4"><tspan font-style="italic">u</tspan><tspan font-size="5.2" dy="1.4">6</tspan><tspan dy="-1.4">(x,t)</tspan></text>
<text x="134.5" y="466" text-anchor="middle" font-family="Liberation Sans, sans-serif" font-weight="bold" font-size="8">x</text>
<text x="357.1" y="466" text-anchor="middle" font-family="Liberation Sans, sans-serif" font-weight="bold" font-size="8">x</text>
<text x="579.7" y="466" text-anchor="middle" font-family="Liberation Sans, sans-serif" font-weight="bold" font-size="8">x</text>
<g font-family="Liberation Serif, serif" font-size="16.5"><text x="56.7" y="232.7" font-size="18.2" textLength="19" lengthAdjust="spacingAndGlyphs">(a)</text><text x="82.8" y="232.7" font-size="17.2" font-style="italic">β</text><text x="98.0" y="232.7" textLength="11.5" lengthAdjust="spacingAndGlyphs">=</text><text x="115.0" y="232.7" textLength="28.4" lengthAdjust="spacingAndGlyphs">0.05</text></g>
<g font-family="Liberation Serif, serif" font-size="16.5"><text x="312.6" y="232.7" font-size="18.2" textLength="19" lengthAdjust="spacingAndGlyphs">(b)</text><text x="338.7" y="232.7" font-size="17.2" font-style="italic">β</text><text x="353.9" y="232.7" textLength="11.5" lengthAdjust="spacingAndGlyphs">=</text><text x="370.9" y="232.7" textLength="28.4" lengthAdjust="spacingAndGlyphs">0.12</text></g>
<g font-family="Liberation Serif, serif" font-size="16.5"><text x="544.0" y="232.7" font-size="18.2" textLength="19" lengthAdjust="spacingAndGlyphs">(c)</text><text x="570.1" y="232.7" font-size="17.2" font-style="italic">β</text><text x="585.3" y="232.7" textLength="11.5" lengthAdjust="spacingAndGlyphs">=</text><text x="602.3" y="232.7">1</text></g>
<g font-family="Liberation Serif, serif" font-size="16.5"><text x="73.4" y="492.4" font-size="18.2" textLength="19" lengthAdjust="spacingAndGlyphs">(d)</text><text x="99.5" y="492.4" font-size="17.2" font-style="italic">β</text><text x="114.7" y="492.4" textLength="11.5" lengthAdjust="spacingAndGlyphs">=</text><text x="131.7" y="492.4" textLength="28.4" lengthAdjust="spacingAndGlyphs">0.05</text></g>
<g font-family="Liberation Serif, serif" font-size="16.5"><text x="296.6" y="492.4" font-size="18.2" textLength="19" lengthAdjust="spacingAndGlyphs">(e)</text><text x="322.7" y="492.4" font-size="17.2" font-style="italic">β</text><text x="337.9" y="492.4" textLength="11.5" lengthAdjust="spacingAndGlyphs">=</text><text x="354.9" y="492.4" textLength="28.4" lengthAdjust="spacingAndGlyphs">0.12</text></g>
<g font-family="Liberation Serif, serif" font-size="16.5"><text x="530.4" y="492.4" font-size="18.2" textLength="19" lengthAdjust="spacingAndGlyphs">(f)</text><text x="556.5" y="492.4" font-size="17.2" font-style="italic">β</text><text x="571.7" y="492.4" textLength="11.5" lengthAdjust="spacingAndGlyphs">=</text><text x="588.7" y="492.4">1</text></g>
</svg></body></html>
